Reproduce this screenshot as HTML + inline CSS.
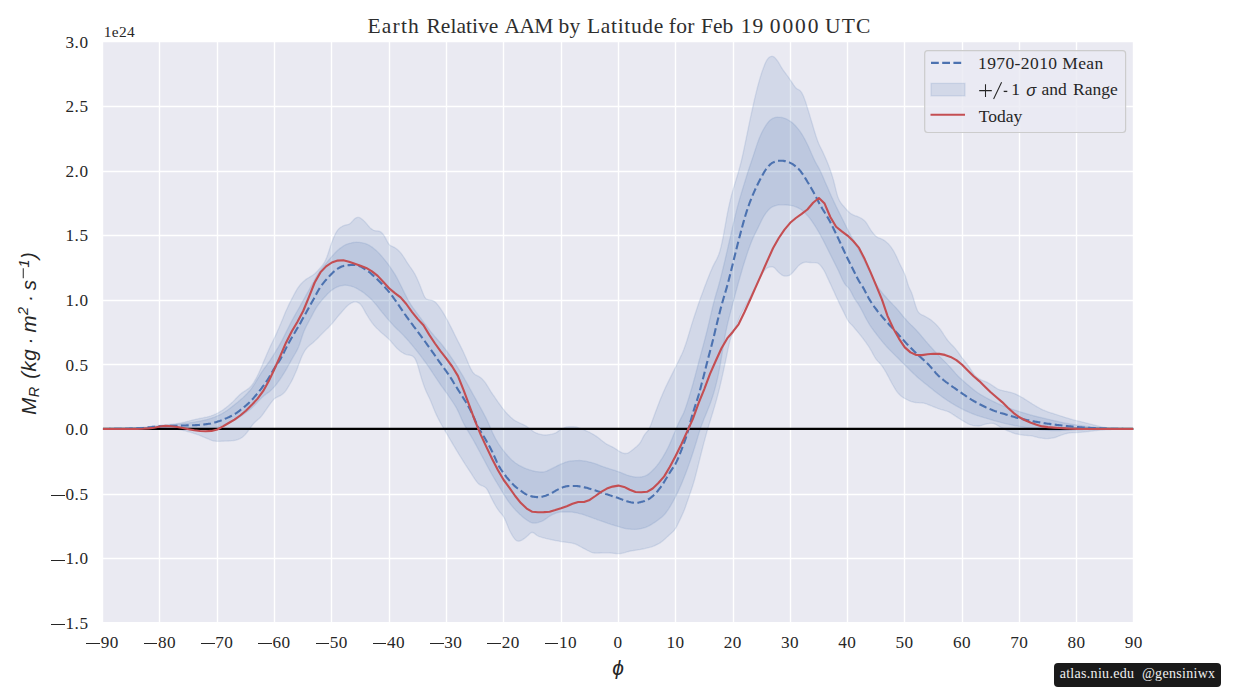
<!DOCTYPE html>
<html><head><meta charset="utf-8"><title>Earth Relative AAM</title>
<style>
html,body{margin:0;padding:0;background:#fff;}
body{width:1246px;height:700px;position:relative;overflow:hidden;font-family:"Liberation Serif",serif;color:#262626;}
.t{position:absolute;white-space:nowrap;line-height:1;}
.tw{top:16.0px;font-size:21.5px;color:#2e2e2e;}
.yt{font-size:17.2px;text-align:right;width:70px;letter-spacing:0.5px;}
.m{display:inline-block;width:14px;height:0;border-top:1.1px solid #262626;vertical-align:3.6px;margin:0 0.9px 0 0;}
.xt .m{vertical-align:4.0px;width:13.6px;margin:0 0.7px 0 0;}
.xt{font-size:17.2px;text-align:center;width:70px;letter-spacing:0.4px;}
</style></head><body>
<svg width="1246" height="700" viewBox="0 0 1246 700" style="position:absolute;left:0;top:0">
<rect x="102.675" y="41.0" width="1031.31" height="581.0" fill="#eaeaf2"/>
<path d="M102.50,41.0V622.0M159.50,41.0V622.0M217.50,41.0V622.0M274.50,41.0V622.0M331.50,41.0V622.0M389.50,41.0V622.0M446.50,41.0V622.0M503.50,41.0V622.0M561.50,41.0V622.0M618.50,41.0V622.0M675.50,41.0V622.0M733.50,41.0V622.0M790.50,41.0V622.0M847.50,41.0V622.0M904.50,41.0V622.0M962.50,41.0V622.0M1019.50,41.0V622.0M1076.50,41.0V622.0M1133.50,41.0V622.0M102.675,41.50H1133.985M102.675,106.50H1133.985M102.675,171.50H1133.985M102.675,235.50H1133.985M102.675,300.50H1133.985M102.675,364.50H1133.985M102.675,429.00H1133.985M102.675,494.50H1133.985M102.675,558.50H1133.985M102.675,623.50H1133.985" stroke="#fff" stroke-width="1.4" fill="none"/>
<clipPath id="cp"><rect x="102.9" y="41.0" width="1030.3" height="581.0"/></clipPath>
<g clip-path="url(#cp)">
<path d="M102.7,429.0L103.7,429.0L104.7,429.0L105.7,429.0L106.7,429.0L107.7,428.9L108.7,428.9L109.7,428.9L110.7,428.9L111.7,428.9L112.7,428.9L113.7,428.9L114.7,428.8L115.7,428.8L116.7,428.8L117.7,428.8L118.7,428.8L119.7,428.7L120.7,428.7L121.7,428.7L122.7,428.6L123.7,428.6L124.7,428.6L125.7,428.5L126.7,428.5L127.7,428.5L128.7,428.4L129.7,428.4L130.7,428.4L131.7,428.3L132.7,428.3L133.7,428.2L134.7,428.2L135.7,428.1L136.7,428.1L137.7,428.0L138.7,428.0L139.7,427.9L140.7,427.9L141.7,427.8L142.7,427.7L143.7,427.5L144.7,427.4L145.7,427.3L146.7,427.1L147.7,427.0L148.7,426.8L149.7,426.7L150.7,426.5L151.7,426.4L152.7,426.2L153.7,426.1L154.7,425.9L155.7,425.8L156.7,425.7L157.7,425.5L158.7,425.4L159.7,425.3L160.7,425.2L161.7,425.1L162.7,425.0L163.7,424.9L164.7,424.8L165.7,424.8L166.7,424.7L167.7,424.6L168.7,424.5L169.7,424.4L170.7,424.3L171.7,424.2L172.7,424.1L173.7,424.0L174.7,423.9L175.7,423.8L176.7,423.6L177.7,423.5L178.7,423.3L179.7,423.1L180.7,423.0L181.7,422.8L182.7,422.5L183.7,422.3L184.7,422.1L185.7,421.8L186.7,421.6L187.7,421.3L188.7,421.1L189.7,420.8L190.7,420.6L191.7,420.3L192.7,420.0L193.7,419.8L194.7,419.6L195.7,419.3L196.7,419.1L197.7,418.9L198.7,418.7L199.7,418.5L200.7,418.3L201.7,418.1L202.7,417.9L203.7,417.7L204.7,417.5L205.7,417.3L206.7,417.1L207.7,416.8L208.7,416.6L209.7,416.3L210.7,416.0L211.7,415.6L212.7,415.3L213.7,414.9L214.7,414.4L215.7,414.0L216.7,413.5L217.7,413.0L218.7,412.5L219.7,411.9L220.7,411.3L221.7,410.7L222.7,410.1L223.7,409.4L224.7,408.6L225.7,407.9L226.7,407.1L227.7,406.3L228.7,405.4L229.7,404.6L230.7,403.7L231.7,402.8L232.7,401.9L233.7,400.9L234.7,399.9L235.7,398.8L236.7,397.8L237.7,396.7L238.7,395.7L239.7,394.8L240.7,393.9L241.7,393.1L242.7,392.4L243.7,391.7L244.7,391.1L245.7,390.5L246.7,389.8L247.7,389.1L248.7,388.4L249.7,387.5L250.7,386.5L251.7,385.3L252.7,384.0L253.7,382.5L254.7,380.8L255.7,379.1L256.7,377.2L257.7,375.3L258.7,373.3L259.7,371.1L260.7,368.8L261.7,366.5L262.7,364.0L263.7,361.6L264.7,359.2L265.7,356.9L266.7,354.5L267.7,352.2L268.7,349.9L269.7,347.7L270.7,345.6L271.7,343.5L272.7,341.5L273.7,339.4L274.7,337.2L275.7,335.1L276.7,332.9L277.7,330.6L278.7,328.4L279.7,326.1L280.7,323.7L281.7,321.3L282.7,318.9L283.7,316.4L284.7,314.0L285.7,311.6L286.7,309.4L287.7,307.2L288.7,305.1L289.7,303.0L290.7,301.0L291.7,299.1L292.7,297.2L293.7,295.3L294.7,293.4L295.7,291.6L296.7,289.8L297.7,288.2L298.7,286.8L299.7,285.5L300.7,284.3L301.7,283.2L302.7,282.2L303.7,281.3L304.7,280.4L305.7,279.6L306.7,278.9L307.7,278.3L308.7,277.7L309.7,277.1L310.7,276.5L311.7,275.9L312.7,275.3L313.7,274.5L314.7,273.7L315.7,272.7L316.7,271.7L317.7,270.7L318.7,269.6L319.7,268.5L320.7,267.4L321.7,266.2L322.7,264.9L323.7,263.5L324.7,261.8L325.7,259.8L326.7,257.4L327.7,254.7L328.7,251.7L329.7,248.6L330.7,245.5L331.7,242.6L332.7,240.0L333.7,237.5L334.7,235.3L335.7,233.3L336.7,231.5L337.7,230.1L338.7,228.9L339.7,228.0L340.7,227.3L341.7,226.7L342.7,226.1L343.7,225.7L344.7,225.3L345.7,225.0L346.7,224.8L347.7,224.6L348.7,224.3L349.7,223.8L350.7,223.1L351.7,222.0L352.7,220.9L353.7,219.8L354.7,218.8L355.7,218.1L356.7,217.6L357.7,217.4L358.7,217.4L359.7,217.7L360.7,218.2L361.7,218.9L362.7,219.7L363.7,220.6L364.7,221.6L365.7,222.7L366.7,223.9L367.7,225.1L368.7,226.3L369.7,227.4L370.7,228.4L371.7,229.1L372.7,229.8L373.7,230.3L374.7,230.6L375.7,230.8L376.7,230.9L377.7,230.9L378.7,231.1L379.7,231.4L380.7,231.9L381.7,232.7L382.7,233.7L383.7,235.0L384.7,236.6L385.7,238.4L386.7,240.4L387.7,242.2L388.7,243.8L389.7,244.9L390.7,245.7L391.7,246.2L392.7,246.6L393.7,247.1L394.7,247.6L395.7,248.2L396.7,248.9L397.7,249.8L398.7,250.7L399.7,251.7L400.7,252.9L401.7,254.1L402.7,255.5L403.7,257.0L404.7,258.6L405.7,260.2L406.7,261.8L407.7,263.3L408.7,264.8L409.7,266.3L410.7,267.7L411.7,269.1L412.7,270.6L413.7,272.2L414.7,273.8L415.7,275.7L416.7,277.7L417.7,279.9L418.7,282.2L419.7,284.7L420.7,287.2L421.7,289.9L422.7,292.6L423.7,295.1L424.7,297.1L425.7,298.4L426.7,299.2L427.7,299.5L428.7,299.8L429.7,299.9L430.7,300.1L431.7,300.3L432.7,300.6L433.7,301.0L434.7,301.7L435.7,302.5L436.7,303.6L437.7,304.8L438.7,306.1L439.7,307.5L440.7,308.9L441.7,310.4L442.7,311.9L443.7,313.6L444.7,315.3L445.7,317.1L446.7,319.0L447.7,320.8L448.7,322.7L449.7,324.7L450.7,326.6L451.7,328.6L452.7,330.6L453.7,332.6L454.7,334.7L455.7,336.7L456.7,338.7L457.7,340.7L458.7,342.6L459.7,344.6L460.7,346.6L461.7,348.6L462.7,350.6L463.7,352.8L464.7,355.0L465.7,357.3L466.7,359.6L467.7,362.0L468.7,364.3L469.7,366.5L470.7,368.6L471.7,370.4L472.7,372.1L473.7,373.3L474.7,374.3L475.7,374.9L476.7,375.4L477.7,375.9L478.7,376.4L479.7,377.0L480.7,377.8L481.7,378.6L482.7,379.6L483.7,380.7L484.7,381.9L485.7,383.2L486.7,384.8L487.7,386.4L488.7,388.0L489.7,389.7L490.7,391.3L491.7,392.8L492.7,394.3L493.7,395.7L494.7,397.2L495.7,398.7L496.7,400.1L497.7,401.5L498.7,403.0L499.7,404.3L500.7,405.7L501.7,407.1L502.7,408.4L503.7,409.6L504.7,410.9L505.7,412.1L506.7,413.2L507.7,414.3L508.7,415.3L509.7,416.3L510.7,417.3L511.7,418.1L512.7,418.9L513.7,419.7L514.7,420.4L515.7,421.0L516.7,421.5L517.7,422.0L518.7,422.5L519.7,423.0L520.7,423.4L521.7,423.9L522.7,424.3L523.7,424.8L524.7,425.3L525.7,425.9L526.7,426.5L527.7,427.2L528.7,427.9L529.7,428.7L530.7,429.5L531.7,430.2L532.7,431.0L533.7,431.7L534.7,432.3L535.7,432.8L536.7,433.2L537.7,433.6L538.7,433.9L539.7,434.2L540.7,434.4L541.7,434.6L542.7,434.8L543.7,434.9L544.7,435.0L545.7,435.0L546.7,434.9L547.7,434.8L548.7,434.7L549.7,434.6L550.7,434.4L551.7,434.2L552.7,433.9L553.7,433.7L554.7,433.3L555.7,432.9L556.7,432.3L557.7,431.6L558.7,430.9L559.7,430.2L560.7,429.6L561.7,429.0L562.7,428.5L563.7,428.1L564.7,427.6L565.7,427.3L566.7,427.0L567.7,426.9L568.7,426.8L569.7,426.8L570.7,426.8L571.7,426.8L572.7,426.8L573.7,426.8L574.7,426.9L575.7,427.0L576.7,427.2L577.7,427.5L578.7,427.8L579.7,428.2L580.7,428.5L581.7,428.9L582.7,429.3L583.7,429.7L584.7,430.1L585.7,430.6L586.7,431.0L587.7,431.5L588.7,431.9L589.7,432.4L590.7,433.0L591.7,433.5L592.7,434.1L593.7,434.6L594.7,435.2L595.7,435.9L596.7,436.6L597.7,437.3L598.7,438.1L599.7,438.8L600.7,439.7L601.7,440.5L602.7,441.3L603.7,442.0L604.7,442.8L605.7,443.5L606.7,444.1L607.7,444.7L608.7,445.2L609.7,445.7L610.7,446.2L611.7,446.6L612.7,447.1L613.7,447.7L614.7,448.2L615.7,448.9L616.7,449.5L617.7,450.2L618.7,450.9L619.7,451.5L620.7,452.1L621.7,452.6L622.7,452.9L623.7,453.3L624.7,453.5L625.7,453.5L626.7,453.4L627.7,453.1L628.7,452.7L629.7,452.0L630.7,451.3L631.7,450.5L632.7,449.7L633.7,448.9L634.7,448.1L635.7,447.3L636.7,446.5L637.7,445.5L638.7,444.5L639.7,443.3L640.7,441.8L641.7,440.0L642.7,438.0L643.7,436.1L644.7,434.5L645.7,433.2L646.7,432.1L647.7,431.0L648.7,429.6L649.7,427.6L650.7,425.2L651.7,422.5L652.7,419.7L653.7,417.0L654.7,414.2L655.7,411.5L656.7,408.9L657.7,406.3L658.7,403.7L659.7,401.1L660.7,398.6L661.7,396.2L662.7,393.8L663.7,391.5L664.7,389.3L665.7,387.1L666.7,385.0L667.7,382.9L668.7,380.9L669.7,378.9L670.7,376.9L671.7,374.9L672.7,372.9L673.7,370.9L674.7,368.8L675.7,366.8L676.7,364.8L677.7,362.7L678.7,360.7L679.7,358.7L680.7,356.6L681.7,354.5L682.7,352.2L683.7,349.8L684.7,347.1L685.7,344.3L686.7,341.2L687.7,338.0L688.7,334.6L689.7,331.2L690.7,327.9L691.7,324.6L692.7,321.4L693.7,318.3L694.7,315.2L695.7,312.2L696.7,309.2L697.7,306.2L698.7,303.3L699.7,300.4L700.7,297.6L701.7,294.9L702.7,292.2L703.7,289.5L704.7,286.8L705.7,284.2L706.7,281.6L707.7,279.0L708.7,276.5L709.7,274.0L710.7,271.5L711.7,269.2L712.7,266.9L713.7,264.9L714.7,262.9L715.7,261.1L716.7,259.2L717.7,257.1L718.7,254.7L719.7,251.7L720.7,248.1L721.7,243.8L722.7,239.0L723.7,233.9L724.7,228.4L725.7,222.8L726.7,217.2L727.7,211.9L728.7,207.1L729.7,202.6L730.7,198.4L731.7,194.5L732.7,190.9L733.7,187.4L734.7,184.1L735.7,180.9L736.7,177.7L737.7,174.4L738.7,170.9L739.7,167.3L740.7,163.5L741.7,159.5L742.7,155.1L743.7,150.5L744.7,145.7L745.7,140.8L746.7,135.9L747.7,131.1L748.7,126.2L749.7,121.4L750.7,116.7L751.7,112.1L752.7,107.5L753.7,103.0L754.7,98.6L755.7,94.4L756.7,90.4L757.7,86.5L758.7,82.8L759.7,79.3L760.7,76.0L761.7,72.8L762.7,69.9L763.7,67.2L764.7,64.6L765.7,62.3L766.7,60.4L767.7,58.9L768.7,57.8L769.7,57.0L770.7,56.5L771.7,56.3L772.7,56.4L773.7,56.8L774.7,57.6L775.7,58.6L776.7,59.8L777.7,61.2L778.7,62.7L779.7,64.4L780.7,66.2L781.7,67.8L782.7,69.4L783.7,70.8L784.7,72.2L785.7,73.5L786.7,74.9L787.7,76.2L788.7,77.6L789.7,79.1L790.7,80.6L791.7,82.1L792.7,83.6L793.7,85.1L794.7,86.5L795.7,87.7L796.7,88.6L797.7,89.2L798.7,89.7L799.7,90.3L800.7,91.3L801.7,92.7L802.7,94.6L803.7,96.8L804.7,99.4L805.7,102.3L806.7,105.4L807.7,108.7L808.7,111.9L809.7,115.3L810.7,118.6L811.7,122.0L812.7,125.3L813.7,128.7L814.7,132.0L815.7,135.3L816.7,138.3L817.7,141.1L818.7,143.6L819.7,145.8L820.7,147.8L821.7,149.8L822.7,151.8L823.7,154.0L824.7,156.2L825.7,158.5L826.7,160.8L827.7,163.3L828.7,165.8L829.7,168.5L830.7,171.2L831.7,174.2L832.7,177.4L833.7,181.0L834.7,185.0L835.7,189.1L836.7,193.1L837.7,196.5L838.7,199.1L839.7,201.1L840.7,202.7L841.7,204.0L842.7,205.2L843.7,206.3L844.7,207.5L845.7,208.6L846.7,209.7L847.7,210.8L848.7,211.8L849.7,212.8L850.7,213.5L851.7,214.2L852.7,214.7L853.7,215.2L854.7,215.6L855.7,215.9L856.7,216.2L857.7,216.6L858.7,217.0L859.7,217.5L860.7,218.0L861.7,218.5L862.7,219.2L863.7,220.0L864.7,220.9L865.7,222.0L866.7,223.4L867.7,225.0L868.7,226.7L869.7,228.3L870.7,229.9L871.7,231.3L872.7,232.6L873.7,233.9L874.7,235.0L875.7,236.0L876.7,236.8L877.7,237.4L878.7,237.9L879.7,238.2L880.7,238.6L881.7,239.0L882.7,239.5L883.7,240.1L884.7,240.8L885.7,241.6L886.7,242.4L887.7,243.3L888.7,244.3L889.7,245.4L890.7,246.7L891.7,248.1L892.7,249.6L893.7,251.2L894.7,253.0L895.7,255.0L896.7,257.1L897.7,259.3L898.7,261.6L899.7,263.7L900.7,265.8L901.7,267.8L902.7,269.7L903.7,271.8L904.7,274.1L905.7,276.9L906.7,280.1L907.7,283.5L908.7,286.4L909.7,288.7L910.7,290.8L911.7,293.1L912.7,295.9L913.7,299.3L914.7,302.8L915.7,306.0L916.7,308.8L917.7,311.0L918.7,312.5L919.7,313.6L920.7,314.2L921.7,314.8L922.7,315.2L923.7,315.7L924.7,316.2L925.7,316.7L926.7,317.3L927.7,317.9L928.7,318.5L929.7,319.1L930.7,319.8L931.7,320.6L932.7,321.4L933.7,322.2L934.7,323.1L935.7,324.1L936.7,325.1L937.7,326.2L938.7,327.4L939.7,328.6L940.7,329.9L941.7,331.4L942.7,332.9L943.7,334.5L944.7,336.0L945.7,337.5L946.7,339.0L947.7,340.3L948.7,341.5L949.7,342.6L950.7,343.7L951.7,344.7L952.7,345.7L953.7,346.8L954.7,347.9L955.7,349.1L956.7,350.4L957.7,351.7L958.7,353.1L959.7,354.5L960.7,355.9L961.7,357.3L962.7,358.6L963.7,359.9L964.7,361.2L965.7,362.5L966.7,363.7L967.7,365.0L968.7,366.3L969.7,367.8L970.7,369.3L971.7,370.9L972.7,372.4L973.7,373.8L974.7,375.1L975.7,376.1L976.7,377.0L977.7,377.8L978.7,378.4L979.7,379.0L980.7,379.6L981.7,380.0L982.7,380.5L983.7,380.9L984.7,381.3L985.7,381.7L986.7,382.1L987.7,382.6L988.7,383.2L989.7,383.8L990.7,384.4L991.7,385.0L992.7,385.7L993.7,386.4L994.7,387.1L995.7,387.8L996.7,388.4L997.7,389.0L998.7,389.4L999.7,389.8L1000.7,390.1L1001.7,390.4L1002.7,390.6L1003.7,390.8L1004.7,391.1L1005.7,391.3L1006.7,391.5L1007.7,391.7L1008.7,392.0L1009.7,392.2L1010.7,392.5L1011.7,392.7L1012.7,393.0L1013.7,393.3L1014.7,393.7L1015.7,394.1L1016.7,394.6L1017.7,395.1L1018.7,395.6L1019.7,396.1L1020.7,396.7L1021.7,397.3L1022.7,397.8L1023.7,398.4L1024.7,399.1L1025.7,399.7L1026.7,400.3L1027.7,401.0L1028.7,401.6L1029.7,402.3L1030.7,402.9L1031.7,403.5L1032.7,404.2L1033.7,404.8L1034.7,405.4L1035.7,406.0L1036.7,406.6L1037.7,407.2L1038.7,407.7L1039.7,408.3L1040.7,408.8L1041.7,409.3L1042.7,409.8L1043.7,410.2L1044.7,410.6L1045.7,411.0L1046.7,411.4L1047.7,411.8L1048.7,412.1L1049.7,412.5L1050.7,412.8L1051.7,413.1L1052.7,413.4L1053.7,413.7L1054.7,414.1L1055.7,414.4L1056.7,414.7L1057.7,415.0L1058.7,415.4L1059.7,415.7L1060.7,416.0L1061.7,416.3L1062.7,416.6L1063.7,416.9L1064.7,417.3L1065.7,417.6L1066.7,417.9L1067.7,418.2L1068.7,418.5L1069.7,418.8L1070.7,419.1L1071.7,419.4L1072.7,419.7L1073.7,419.9L1074.7,420.2L1075.7,420.4L1076.7,420.7L1077.7,420.9L1078.7,421.2L1079.7,421.4L1080.7,421.6L1081.7,421.9L1082.7,422.1L1083.7,422.4L1084.7,422.6L1085.7,422.9L1086.7,423.1L1087.7,423.4L1088.7,423.7L1089.7,423.9L1090.7,424.2L1091.7,424.4L1092.7,424.7L1093.7,425.0L1094.7,425.2L1095.7,425.5L1096.7,425.7L1097.7,426.0L1098.7,426.2L1099.7,426.5L1100.7,426.7L1101.7,426.9L1102.7,427.1L1103.7,427.3L1104.7,427.4L1105.7,427.6L1106.7,427.7L1107.7,427.9L1108.7,428.0L1109.7,428.2L1110.7,428.3L1111.7,428.4L1112.7,428.5L1113.7,428.5L1114.7,428.6L1115.7,428.7L1116.7,428.8L1117.7,428.8L1118.7,428.9L1119.7,428.9L1120.7,429.0L1121.7,429.0L1122.7,429.0L1123.7,429.0L1124.7,429.0L1125.7,429.0L1126.7,429.0L1127.7,429.0L1128.7,429.0L1129.7,429.0L1130.7,429.0L1131.7,429.0L1132.7,429.0L1134.0,429.0L1134.0,429.0L1132.7,429.0L1131.7,429.0L1130.7,429.0L1129.7,429.1L1128.7,429.1L1127.7,429.1L1126.7,429.1L1125.7,429.1L1124.7,429.1L1123.7,429.2L1122.7,429.2L1121.7,429.2L1120.7,429.2L1119.7,429.2L1118.7,429.3L1117.7,429.3L1116.7,429.3L1115.7,429.3L1114.7,429.3L1113.7,429.4L1112.7,429.4L1111.7,429.4L1110.7,429.5L1109.7,429.5L1108.7,429.6L1107.7,429.6L1106.7,429.7L1105.7,429.7L1104.7,429.8L1103.7,429.9L1102.7,430.0L1101.7,430.0L1100.7,430.1L1099.7,430.2L1098.7,430.3L1097.7,430.4L1096.7,430.5L1095.7,430.6L1094.7,430.7L1093.7,430.9L1092.7,431.0L1091.7,431.1L1090.7,431.2L1089.7,431.3L1088.7,431.5L1087.7,431.6L1086.7,431.7L1085.7,431.8L1084.7,431.9L1083.7,432.0L1082.7,432.1L1081.7,432.2L1080.7,432.3L1079.7,432.3L1078.7,432.4L1077.7,432.5L1076.7,432.5L1075.7,432.6L1074.7,432.6L1073.7,432.6L1072.7,432.7L1071.7,432.7L1070.7,432.8L1069.7,432.9L1068.7,433.1L1067.7,433.2L1066.7,433.5L1065.7,433.7L1064.7,434.0L1063.7,434.3L1062.7,434.6L1061.7,435.0L1060.7,435.3L1059.7,435.7L1058.7,436.1L1057.7,436.5L1056.7,436.9L1055.7,437.3L1054.7,437.5L1053.7,437.8L1052.7,438.0L1051.7,438.1L1050.7,438.3L1049.7,438.4L1048.7,438.5L1047.7,438.6L1046.7,438.6L1045.7,438.6L1044.7,438.5L1043.7,438.4L1042.7,438.3L1041.7,438.1L1040.7,438.0L1039.7,437.8L1038.7,437.6L1037.7,437.4L1036.7,437.1L1035.7,436.9L1034.7,436.6L1033.7,436.3L1032.7,436.1L1031.7,435.9L1030.7,435.7L1029.7,435.6L1028.7,435.6L1027.7,435.5L1026.7,435.4L1025.7,435.3L1024.7,435.3L1023.7,435.2L1022.7,435.1L1021.7,434.9L1020.7,434.8L1019.7,434.6L1018.7,434.4L1017.7,434.2L1016.7,434.0L1015.7,433.8L1014.7,433.5L1013.7,433.2L1012.7,432.8L1011.7,432.4L1010.7,432.0L1009.7,431.6L1008.7,431.2L1007.7,430.8L1006.7,430.3L1005.7,429.8L1004.7,429.3L1003.7,428.8L1002.7,428.3L1001.7,427.8L1000.7,427.2L999.7,426.7L998.7,426.1L997.7,425.5L996.7,424.9L995.7,424.3L994.7,423.9L993.7,423.5L992.7,423.4L991.7,423.3L990.7,423.3L989.7,423.4L988.7,423.6L987.7,423.7L986.7,423.9L985.7,424.1L984.7,424.3L983.7,424.6L982.7,425.0L981.7,425.4L980.7,425.7L979.7,425.9L978.7,426.0L977.7,426.0L976.7,425.9L975.7,425.8L974.7,425.7L973.7,425.6L972.7,425.4L971.7,425.1L970.7,424.9L969.7,424.5L968.7,424.1L967.7,423.6L966.7,423.0L965.7,422.5L964.7,421.9L963.7,421.3L962.7,420.7L961.7,420.1L960.7,419.5L959.7,418.8L958.7,418.2L957.7,417.6L956.7,416.9L955.7,416.3L954.7,415.6L953.7,414.9L952.7,414.3L951.7,413.6L950.7,413.0L949.7,412.4L948.7,411.9L947.7,411.5L946.7,411.1L945.7,410.8L944.7,410.5L943.7,410.2L942.7,409.9L941.7,409.6L940.7,409.4L939.7,409.1L938.7,408.7L937.7,408.4L936.7,408.0L935.7,407.6L934.7,407.2L933.7,406.8L932.7,406.4L931.7,406.0L930.7,405.6L929.7,405.2L928.7,404.8L927.7,404.4L926.7,404.0L925.7,403.7L924.7,403.4L923.7,403.1L922.7,403.0L921.7,402.9L920.7,402.8L919.7,402.8L918.7,402.7L917.7,402.7L916.7,402.6L915.7,402.5L914.7,402.4L913.7,402.2L912.7,401.9L911.7,401.6L910.7,401.3L909.7,400.9L908.7,400.5L907.7,400.0L906.7,399.5L905.7,399.0L904.7,398.5L903.7,397.9L902.7,397.2L901.7,396.5L900.7,395.7L899.7,394.8L898.7,393.8L897.7,392.6L896.7,391.3L895.7,389.8L894.7,388.2L893.7,386.5L892.7,384.8L891.7,383.0L890.7,381.1L889.7,379.2L888.7,377.3L887.7,375.4L886.7,373.6L885.7,371.8L884.7,370.1L883.7,368.5L882.7,366.9L881.7,365.6L880.7,364.3L879.7,363.2L878.7,362.1L877.7,361.1L876.7,359.9L875.7,358.6L874.7,357.0L873.7,355.2L872.7,353.4L871.7,351.5L870.7,349.8L869.7,348.1L868.7,346.5L867.7,345.0L866.7,343.6L865.7,342.1L864.7,340.8L863.7,339.4L862.7,338.1L861.7,336.8L860.7,335.5L859.7,334.3L858.7,333.1L857.7,331.9L856.7,330.7L855.7,329.5L854.7,328.3L853.7,327.0L852.7,325.9L851.7,324.8L850.7,323.9L849.7,322.9L848.7,321.7L847.7,320.1L846.7,318.3L845.7,316.2L844.7,314.2L843.7,312.1L842.7,310.1L841.7,308.1L840.7,306.1L839.7,304.1L838.7,302.0L837.7,299.8L836.7,297.7L835.7,295.5L834.7,293.3L833.7,291.1L832.7,288.9L831.7,286.7L830.7,284.5L829.7,282.4L828.7,280.2L827.7,278.1L826.7,275.9L825.7,273.8L824.7,271.8L823.7,270.0L822.7,268.4L821.7,267.0L820.7,265.7L819.7,264.6L818.7,263.7L817.7,263.1L816.7,262.8L815.7,262.7L814.7,262.6L813.7,262.6L812.7,262.6L811.7,262.6L810.7,262.5L809.7,262.5L808.7,262.4L807.7,262.3L806.7,262.2L805.7,262.2L804.7,262.3L803.7,262.5L802.7,262.9L801.7,263.4L800.7,264.0L799.7,264.7L798.7,265.6L797.7,266.6L796.7,267.8L795.7,269.0L794.7,270.2L793.7,271.4L792.7,272.5L791.7,273.5L790.7,274.4L789.7,275.2L788.7,275.7L787.7,275.9L786.7,276.1L785.7,276.1L784.7,276.0L783.7,275.8L782.7,275.4L781.7,274.9L780.7,274.1L779.7,273.3L778.7,272.4L777.7,271.4L776.7,270.3L775.7,269.1L774.7,268.1L773.7,267.3L772.7,266.9L771.7,266.7L770.7,266.8L769.7,267.0L768.7,267.3L767.7,267.7L766.7,268.3L765.7,269.2L764.7,270.2L763.7,271.5L762.7,272.9L761.7,274.6L760.7,276.5L759.7,278.5L758.7,280.6L757.7,282.7L756.7,284.7L755.7,286.7L754.7,288.6L753.7,290.5L752.7,292.4L751.7,294.3L750.7,296.2L749.7,298.1L748.7,299.9L747.7,301.8L746.7,303.6L745.7,305.4L744.7,307.2L743.7,309.0L742.7,310.9L741.7,312.8L740.7,314.9L739.7,317.1L738.7,319.5L737.7,322.0L736.7,324.5L735.7,326.9L734.7,329.2L733.7,331.3L732.7,333.4L731.7,335.6L730.7,338.2L729.7,341.6L728.7,345.8L727.7,350.6L726.7,355.5L725.7,360.4L724.7,365.1L723.7,369.7L722.7,374.3L721.7,378.8L720.7,383.1L719.7,387.4L718.7,391.5L717.7,395.3L716.7,399.0L715.7,402.6L714.7,406.1L713.7,409.4L712.7,412.8L711.7,416.1L710.7,419.3L709.7,422.5L708.7,425.8L707.7,429.1L706.7,432.5L705.7,436.1L704.7,439.8L703.7,443.6L702.7,447.4L701.7,451.3L700.7,455.3L699.7,459.3L698.7,463.3L697.7,467.3L696.7,471.3L695.7,475.2L694.7,479.0L693.7,482.5L692.7,485.7L691.7,488.8L690.7,491.7L689.7,494.6L688.7,497.5L687.7,500.4L686.7,503.3L685.7,506.2L684.7,508.9L683.7,511.5L682.7,513.8L681.7,516.0L680.7,518.1L679.7,520.2L678.7,522.3L677.7,524.5L676.7,526.5L675.7,528.2L674.7,529.7L673.7,530.9L672.7,531.9L671.7,532.8L670.7,533.7L669.7,534.6L668.7,535.5L667.7,536.4L666.7,537.4L665.7,538.3L664.7,539.2L663.7,540.1L662.7,540.9L661.7,541.7L660.7,542.4L659.7,543.1L658.7,543.7L657.7,544.2L656.7,544.7L655.7,545.2L654.7,545.7L653.7,546.1L652.7,546.4L651.7,546.8L650.7,547.1L649.7,547.3L648.7,547.6L647.7,547.9L646.7,548.1L645.7,548.3L644.7,548.6L643.7,548.8L642.7,549.0L641.7,549.2L640.7,549.4L639.7,549.6L638.7,549.7L637.7,549.9L636.7,550.1L635.7,550.2L634.7,550.4L633.7,550.5L632.7,550.7L631.7,550.9L630.7,551.0L629.7,551.2L628.7,551.5L627.7,551.7L626.7,552.0L625.7,552.3L624.7,552.6L623.7,552.8L622.7,553.1L621.7,553.3L620.7,553.5L619.7,553.6L618.7,553.6L617.7,553.6L616.7,553.6L615.7,553.5L614.7,553.4L613.7,553.3L612.7,553.2L611.7,553.1L610.7,553.0L609.7,552.9L608.7,552.8L607.7,552.8L606.7,552.8L605.7,552.8L604.7,552.8L603.7,552.8L602.7,552.8L601.7,552.9L600.7,552.9L599.7,553.0L598.7,553.0L597.7,553.1L596.7,553.1L595.7,553.1L594.7,553.0L593.7,552.9L592.7,552.7L591.7,552.4L590.7,552.0L589.7,551.5L588.7,551.0L587.7,550.5L586.7,550.0L585.7,549.4L584.7,548.9L583.7,548.4L582.7,547.9L581.7,547.3L580.7,546.8L579.7,546.2L578.7,545.7L577.7,545.1L576.7,544.6L575.7,544.2L574.7,543.8L573.7,543.5L572.7,543.3L571.7,543.1L570.7,542.9L569.7,542.7L568.7,542.6L567.7,542.4L566.7,542.3L565.7,542.2L564.7,542.1L563.7,541.9L562.7,541.8L561.7,541.6L560.7,541.5L559.7,541.3L558.7,541.1L557.7,540.9L556.7,540.7L555.7,540.6L554.7,540.4L553.7,540.2L552.7,540.0L551.7,539.7L550.7,539.5L549.7,539.3L548.7,539.1L547.7,538.9L546.7,538.6L545.7,538.4L544.7,538.1L543.7,537.9L542.7,537.6L541.7,537.3L540.7,537.0L539.7,536.7L538.7,536.3L537.7,535.8L536.7,535.2L535.7,534.4L534.7,533.6L533.7,532.9L532.7,532.5L531.7,532.5L530.7,533.0L529.7,533.7L528.7,534.7L527.7,535.7L526.7,536.6L525.7,537.5L524.7,538.2L523.7,538.9L522.7,539.6L521.7,540.2L520.7,540.7L519.7,541.0L518.7,541.2L517.7,541.1L516.7,540.7L515.7,540.0L514.7,538.9L513.7,537.6L512.7,536.1L511.7,534.4L510.7,532.6L509.7,530.7L508.7,528.5L507.7,526.1L506.7,523.6L505.7,521.1L504.7,518.9L503.7,517.0L502.7,515.5L501.7,514.2L500.7,513.0L499.7,511.9L498.7,510.6L497.7,509.2L496.7,507.7L495.7,506.0L494.7,504.2L493.7,502.4L492.7,500.5L491.7,498.6L490.7,496.6L489.7,494.5L488.7,492.4L487.7,490.4L486.7,488.9L485.7,487.7L484.7,487.0L483.7,486.4L482.7,486.0L481.7,485.6L480.7,485.2L479.7,484.6L478.7,483.9L477.7,482.9L476.7,481.7L475.7,480.3L474.7,478.9L473.7,477.3L472.7,475.8L471.7,474.2L470.7,472.7L469.7,471.2L468.7,469.7L467.7,468.2L466.7,466.6L465.7,465.1L464.7,463.5L463.7,461.9L462.7,460.3L461.7,458.7L460.7,457.1L459.7,455.5L458.7,453.9L457.7,452.2L456.7,450.6L455.7,448.9L454.7,447.2L453.7,445.6L452.7,443.9L451.7,442.2L450.7,440.5L449.7,438.8L448.7,437.1L447.7,435.3L446.7,433.6L445.7,431.9L444.7,430.2L443.7,428.5L442.7,426.7L441.7,425.0L440.7,423.2L439.7,421.4L438.7,419.4L437.7,417.5L436.7,415.4L435.7,413.2L434.7,410.9L433.7,408.5L432.7,406.0L431.7,403.5L430.7,401.1L429.7,398.8L428.7,396.7L427.7,394.6L426.7,392.5L425.7,390.3L424.7,387.8L423.7,385.0L422.7,382.1L421.7,379.0L420.7,375.7L419.7,372.3L418.7,368.7L417.7,365.3L416.7,362.3L415.7,359.9L414.7,358.2L413.7,357.0L412.7,356.2L411.7,355.7L410.7,355.4L409.7,355.2L408.7,355.0L407.7,354.8L406.7,354.6L405.7,354.3L404.7,353.9L403.7,353.4L402.7,352.8L401.7,352.2L400.7,351.4L399.7,350.7L398.7,349.8L397.7,348.9L396.7,348.0L395.7,346.9L394.7,345.8L393.7,344.6L392.7,343.5L391.7,342.3L390.7,341.1L389.7,340.1L388.7,339.1L387.7,338.1L386.7,337.2L385.7,336.3L384.7,335.5L383.7,334.6L382.7,333.7L381.7,332.9L380.7,332.0L379.7,331.0L378.7,330.1L377.7,329.1L376.7,328.2L375.7,327.1L374.7,326.0L373.7,324.9L372.7,323.6L371.7,322.3L370.7,320.8L369.7,319.3L368.7,317.8L367.7,316.2L366.7,314.6L365.7,312.9L364.7,311.1L363.7,309.3L362.7,307.5L361.7,305.9L360.7,304.6L359.7,303.6L358.7,302.9L357.7,302.4L356.7,302.0L355.7,301.8L354.7,301.8L353.7,302.0L352.7,302.4L351.7,302.8L350.7,303.4L349.7,304.0L348.7,304.8L347.7,305.6L346.7,306.5L345.7,307.5L344.7,308.6L343.7,309.7L342.7,310.9L341.7,312.0L340.7,313.2L339.7,314.3L338.7,315.5L337.7,316.7L336.7,317.9L335.7,319.2L334.7,320.4L333.7,321.6L332.7,322.8L331.7,324.0L330.7,325.1L329.7,326.1L328.7,327.2L327.7,328.2L326.7,329.1L325.7,330.1L324.7,331.1L323.7,332.1L322.7,333.1L321.7,334.1L320.7,335.1L319.7,336.1L318.7,337.2L317.7,338.2L316.7,339.2L315.7,340.1L314.7,341.1L313.7,342.0L312.7,342.9L311.7,343.7L310.7,344.5L309.7,345.3L308.7,346.2L307.7,347.1L306.7,348.2L305.7,349.5L304.7,351.0L303.7,352.7L302.7,354.6L301.7,356.8L300.7,359.3L299.7,361.9L298.7,364.6L297.7,367.3L296.7,369.9L295.7,372.3L294.7,374.6L293.7,376.8L292.7,378.9L291.7,380.9L290.7,382.7L289.7,384.5L288.7,386.2L287.7,387.8L286.7,389.4L285.7,390.8L284.7,392.1L283.7,393.1L282.7,394.1L281.7,394.8L280.7,395.4L279.7,395.9L278.7,396.3L277.7,396.8L276.7,397.3L275.7,397.9L274.7,398.6L273.7,399.5L272.7,400.6L271.7,401.9L270.7,403.2L269.7,404.6L268.7,406.0L267.7,407.4L266.7,408.8L265.7,410.3L264.7,411.7L263.7,413.2L262.7,414.5L261.7,415.8L260.7,417.0L259.7,418.1L258.7,419.0L257.7,419.8L256.7,420.7L255.7,421.5L254.7,422.4L253.7,423.5L252.7,424.7L251.7,426.0L250.7,427.4L249.7,428.8L248.7,430.1L247.7,431.5L246.7,432.8L245.7,434.0L244.7,435.1L243.7,436.1L242.7,437.0L241.7,437.7L240.7,438.2L239.7,438.8L238.7,439.2L237.7,439.6L236.7,439.9L235.7,440.2L234.7,440.4L233.7,440.5L232.7,440.6L231.7,440.7L230.7,440.8L229.7,440.9L228.7,441.0L227.7,441.0L226.7,441.1L225.7,441.1L224.7,441.1L223.7,441.2L222.7,441.2L221.7,441.2L220.7,441.3L219.7,441.3L218.7,441.3L217.7,441.3L216.7,441.3L215.7,441.2L214.7,441.1L213.7,441.0L212.7,440.7L211.7,440.4L210.7,440.0L209.7,439.6L208.7,439.1L207.7,438.7L206.7,438.3L205.7,437.9L204.7,437.5L203.7,437.1L202.7,436.7L201.7,436.2L200.7,435.8L199.7,435.4L198.7,435.0L197.7,434.6L196.7,434.3L195.7,433.9L194.7,433.6L193.7,433.3L192.7,432.9L191.7,432.6L190.7,432.3L189.7,432.0L188.7,431.8L187.7,431.5L186.7,431.3L185.7,431.0L184.7,430.7L183.7,430.5L182.7,430.3L181.7,430.0L180.7,429.8L179.7,429.7L178.7,429.5L177.7,429.4L176.7,429.4L175.7,429.3L174.7,429.3L173.7,429.2L172.7,429.2L171.7,429.2L170.7,429.1L169.7,429.1L168.7,429.1L167.7,429.1L166.7,429.1L165.7,429.0L164.7,429.0L163.7,429.0L162.7,429.0L161.7,429.0L160.7,429.0L159.7,429.0L158.7,429.0L157.7,429.0L156.7,429.0L155.7,429.0L154.7,429.0L153.7,429.0L152.7,429.0L151.7,429.0L150.7,429.0L149.7,429.0L148.7,429.0L147.7,429.0L146.7,429.0L145.7,429.0L144.7,429.0L143.7,429.0L142.7,429.0L141.7,429.0L140.7,429.0L139.7,429.0L138.7,429.0L137.7,429.0L136.7,429.0L135.7,429.0L134.7,429.0L133.7,429.0L132.7,429.0L131.7,429.0L130.7,429.0L129.7,429.0L128.7,429.0L127.7,429.0L126.7,429.0L125.7,429.0L124.7,429.0L123.7,429.0L122.7,429.0L121.7,429.0L120.7,429.0L119.7,429.0L118.7,429.0L117.7,429.0L116.7,429.0L115.7,429.0L114.7,429.0L113.7,429.0L112.7,429.0L111.7,429.0L110.7,429.0L109.7,429.0L108.7,429.0L107.7,429.0L106.7,429.0L105.7,429.0L104.7,429.0L103.7,429.0L102.7,429.0Z" fill="#4c72b0" fill-opacity="0.15" stroke="#4c72b0" stroke-opacity="0.15" stroke-width="1.3"/>
<path d="M102.7,429.0L103.7,429.0L104.7,429.0L105.7,429.0L106.7,429.0L107.7,428.9L108.7,428.9L109.7,428.9L110.7,428.9L111.7,428.9L112.7,428.9L113.7,428.9L114.7,428.8L115.7,428.8L116.7,428.8L117.7,428.8L118.7,428.7L119.7,428.7L120.7,428.7L121.7,428.6L122.7,428.6L123.7,428.6L124.7,428.5L125.7,428.5L126.7,428.5L127.7,428.4L128.7,428.4L129.7,428.3L130.7,428.3L131.7,428.3L132.7,428.2L133.7,428.2L134.7,428.1L135.7,428.1L136.7,428.0L137.7,428.0L138.7,427.9L139.7,427.9L140.7,427.8L141.7,427.8L142.7,427.7L143.7,427.7L144.7,427.6L145.7,427.6L146.7,427.5L147.7,427.5L148.7,427.4L149.7,427.3L150.7,427.3L151.7,427.2L152.7,427.1L153.7,427.0L154.7,426.9L155.7,426.8L156.7,426.7L157.7,426.6L158.7,426.5L159.7,426.4L160.7,426.3L161.7,426.2L162.7,426.0L163.7,425.9L164.7,425.8L165.7,425.7L166.7,425.6L167.7,425.5L168.7,425.4L169.7,425.3L170.7,425.2L171.7,425.0L172.7,424.9L173.7,424.8L174.7,424.7L175.7,424.6L176.7,424.5L177.7,424.4L178.7,424.2L179.7,424.1L180.7,424.0L181.7,423.9L182.7,423.7L183.7,423.6L184.7,423.5L185.7,423.3L186.7,423.2L187.7,423.1L188.7,422.9L189.7,422.8L190.7,422.6L191.7,422.5L192.7,422.3L193.7,422.1L194.7,422.0L195.7,421.8L196.7,421.6L197.7,421.5L198.7,421.3L199.7,421.1L200.7,420.9L201.7,420.7L202.7,420.5L203.7,420.3L204.7,420.0L205.7,419.8L206.7,419.6L207.7,419.3L208.7,419.0L209.7,418.7L210.7,418.4L211.7,418.1L212.7,417.7L213.7,417.4L214.7,417.0L215.7,416.6L216.7,416.2L217.7,415.7L218.7,415.3L219.7,414.8L220.7,414.3L221.7,413.8L222.7,413.2L223.7,412.6L224.7,412.0L225.7,411.3L226.7,410.7L227.7,409.9L228.7,409.2L229.7,408.5L230.7,407.7L231.7,406.9L232.7,406.1L233.7,405.4L234.7,404.6L235.7,403.8L236.7,403.0L237.7,402.2L238.7,401.3L239.7,400.5L240.7,399.6L241.7,398.8L242.7,397.9L243.7,396.9L244.7,396.0L245.7,395.0L246.7,394.0L247.7,392.9L248.7,391.8L249.7,390.7L250.7,389.5L251.7,388.2L252.7,386.7L253.7,385.2L254.7,383.7L255.7,382.0L256.7,380.3L257.7,378.6L258.7,377.0L259.7,375.3L260.7,373.7L261.7,372.1L262.7,370.7L263.7,369.2L264.7,367.8L265.7,366.5L266.7,365.1L267.7,363.7L268.7,362.3L269.7,360.9L270.7,359.4L271.7,357.8L272.7,356.3L273.7,354.7L274.7,353.0L275.7,351.4L276.7,349.7L277.7,348.1L278.7,346.4L279.7,344.6L280.7,342.8L281.7,341.0L282.7,339.1L283.7,337.1L284.7,335.1L285.7,333.1L286.7,331.0L287.7,329.0L288.7,327.0L289.7,325.0L290.7,323.0L291.7,321.1L292.7,319.2L293.7,317.4L294.7,315.6L295.7,313.8L296.7,312.0L297.7,310.3L298.7,308.5L299.7,306.7L300.7,304.9L301.7,303.1L302.7,301.3L303.7,299.5L304.7,297.7L305.7,295.9L306.7,294.1L307.7,292.3L308.7,290.5L309.7,288.7L310.7,286.9L311.7,285.1L312.7,283.3L313.7,281.5L314.7,279.6L315.7,277.8L316.7,276.1L317.7,274.4L318.7,272.8L319.7,271.3L320.7,270.0L321.7,268.7L322.7,267.4L323.7,266.2L324.7,265.0L325.7,263.8L326.7,262.6L327.7,261.3L328.7,260.1L329.7,258.9L330.7,257.8L331.7,256.6L332.7,255.5L333.7,254.4L334.7,253.3L335.7,252.3L336.7,251.3L337.7,250.3L338.7,249.4L339.7,248.6L340.7,247.9L341.7,247.2L342.7,246.5L343.7,245.8L344.7,245.2L345.7,244.7L346.7,244.3L347.7,243.9L348.7,243.6L349.7,243.3L350.7,243.1L351.7,242.8L352.7,242.6L353.7,242.5L354.7,242.4L355.7,242.3L356.7,242.2L357.7,242.3L358.7,242.3L359.7,242.4L360.7,242.6L361.7,242.7L362.7,242.9L363.7,243.2L364.7,243.4L365.7,243.7L366.7,244.1L367.7,244.5L368.7,245.0L369.7,245.6L370.7,246.2L371.7,246.9L372.7,247.6L373.7,248.4L374.7,249.2L375.7,250.0L376.7,250.9L377.7,251.9L378.7,252.9L379.7,254.0L380.7,255.1L381.7,256.2L382.7,257.4L383.7,258.6L384.7,259.8L385.7,261.1L386.7,262.3L387.7,263.6L388.7,265.0L389.7,266.4L390.7,267.8L391.7,269.3L392.7,270.8L393.7,272.3L394.7,273.9L395.7,275.6L396.7,277.4L397.7,279.3L398.7,281.2L399.7,283.2L400.7,285.2L401.7,287.3L402.7,289.3L403.7,291.4L404.7,293.4L405.7,295.4L406.7,297.3L407.7,299.2L408.7,301.0L409.7,302.7L410.7,304.3L411.7,305.8L412.7,307.3L413.7,308.7L414.7,310.1L415.7,311.5L416.7,312.8L417.7,314.2L418.7,315.5L419.7,316.9L420.7,318.2L421.7,319.6L422.7,321.0L423.7,322.3L424.7,323.7L425.7,325.0L426.7,326.4L427.7,327.7L428.7,329.0L429.7,330.3L430.7,331.6L431.7,332.8L432.7,334.0L433.7,335.2L434.7,336.4L435.7,337.5L436.7,338.6L437.7,339.8L438.7,340.9L439.7,342.0L440.7,343.2L441.7,344.4L442.7,345.7L443.7,347.0L444.7,348.3L445.7,349.6L446.7,351.0L447.7,352.4L448.7,353.8L449.7,355.2L450.7,356.7L451.7,358.1L452.7,359.6L453.7,361.1L454.7,362.7L455.7,364.2L456.7,365.8L457.7,367.4L458.7,369.0L459.7,370.7L460.7,372.3L461.7,374.0L462.7,375.7L463.7,377.4L464.7,379.2L465.7,381.0L466.7,382.8L467.7,384.6L468.7,386.4L469.7,388.3L470.7,390.1L471.7,391.9L472.7,393.7L473.7,395.5L474.7,397.3L475.7,399.1L476.7,400.9L477.7,402.7L478.7,404.5L479.7,406.3L480.7,408.1L481.7,409.9L482.7,411.7L483.7,413.6L484.7,415.5L485.7,417.4L486.7,419.5L487.7,421.6L488.7,423.8L489.7,426.1L490.7,428.4L491.7,430.7L492.7,433.0L493.7,435.1L494.7,437.1L495.7,439.0L496.7,440.7L497.7,442.4L498.7,444.0L499.7,445.5L500.7,446.9L501.7,448.3L502.7,449.6L503.7,450.9L504.7,452.2L505.7,453.4L506.7,454.5L507.7,455.7L508.7,456.8L509.7,457.9L510.7,458.9L511.7,459.9L512.7,460.8L513.7,461.6L514.7,462.4L515.7,463.2L516.7,463.8L517.7,464.5L518.7,465.1L519.7,465.7L520.7,466.2L521.7,466.7L522.7,467.2L523.7,467.7L524.7,468.1L525.7,468.5L526.7,468.9L527.7,469.2L528.7,469.6L529.7,469.9L530.7,470.2L531.7,470.5L532.7,470.8L533.7,471.0L534.7,471.3L535.7,471.5L536.7,471.6L537.7,471.7L538.7,471.8L539.7,471.9L540.7,472.0L541.7,472.0L542.7,472.0L543.7,471.9L544.7,471.7L545.7,471.4L546.7,471.1L547.7,470.6L548.7,470.1L549.7,469.7L550.7,469.2L551.7,468.7L552.7,468.2L553.7,467.7L554.7,467.2L555.7,466.7L556.7,466.1L557.7,465.6L558.7,465.1L559.7,464.7L560.7,464.2L561.7,463.8L562.7,463.4L563.7,463.0L564.7,462.6L565.7,462.2L566.7,461.9L567.7,461.6L568.7,461.4L569.7,461.2L570.7,461.0L571.7,460.9L572.7,460.8L573.7,460.8L574.7,460.7L575.7,460.6L576.7,460.6L577.7,460.6L578.7,460.5L579.7,460.5L580.7,460.6L581.7,460.6L582.7,460.8L583.7,460.9L584.7,461.0L585.7,461.2L586.7,461.4L587.7,461.6L588.7,461.9L589.7,462.1L590.7,462.3L591.7,462.6L592.7,462.9L593.7,463.2L594.7,463.5L595.7,463.8L596.7,464.2L597.7,464.6L598.7,465.0L599.7,465.4L600.7,465.8L601.7,466.1L602.7,466.5L603.7,466.9L604.7,467.2L605.7,467.6L606.7,467.9L607.7,468.2L608.7,468.5L609.7,468.9L610.7,469.2L611.7,469.5L612.7,469.8L613.7,470.1L614.7,470.4L615.7,470.7L616.7,471.1L617.7,471.4L618.7,471.8L619.7,472.1L620.7,472.5L621.7,472.9L622.7,473.4L623.7,473.8L624.7,474.2L625.7,474.6L626.7,475.0L627.7,475.3L628.7,475.6L629.7,475.9L630.7,476.1L631.7,476.4L632.7,476.6L633.7,476.8L634.7,476.9L635.7,477.1L636.7,477.2L637.7,477.2L638.7,477.2L639.7,477.2L640.7,477.0L641.7,476.9L642.7,476.6L643.7,476.4L644.7,476.0L645.7,475.7L646.7,475.2L647.7,474.6L648.7,473.9L649.7,473.1L650.7,472.2L651.7,471.3L652.7,470.3L653.7,469.3L654.7,468.3L655.7,467.1L656.7,465.9L657.7,464.6L658.7,463.3L659.7,461.9L660.7,460.4L661.7,458.9L662.7,457.3L663.7,455.6L664.7,453.9L665.7,452.1L666.7,450.2L667.7,448.3L668.7,446.2L669.7,444.1L670.7,441.8L671.7,439.4L672.7,437.0L673.7,434.6L674.7,432.2L675.7,429.8L676.7,427.4L677.7,425.1L678.7,422.8L679.7,420.8L680.7,418.8L681.7,416.9L682.7,414.9L683.7,412.7L684.7,410.2L685.7,407.4L686.7,404.5L687.7,401.4L688.7,398.2L689.7,394.9L690.7,391.6L691.7,388.2L692.7,384.7L693.7,381.1L694.7,377.5L695.7,373.7L696.7,369.9L697.7,366.1L698.7,362.2L699.7,358.4L700.7,354.7L701.7,351.0L702.7,347.3L703.7,343.6L704.7,339.8L705.7,336.0L706.7,332.1L707.7,328.1L708.7,323.9L709.7,319.6L710.7,315.2L711.7,310.9L712.7,306.7L713.7,302.7L714.7,298.9L715.7,295.4L716.7,292.0L717.7,288.7L718.7,285.2L719.7,281.5L720.7,277.7L721.7,273.7L722.7,269.6L723.7,265.5L724.7,261.3L725.7,257.0L726.7,252.7L727.7,248.4L728.7,244.0L729.7,239.6L730.7,235.3L731.7,230.9L732.7,226.5L733.7,222.1L734.7,217.8L735.7,213.7L736.7,209.7L737.7,205.9L738.7,202.3L739.7,198.8L740.7,195.4L741.7,192.0L742.7,188.7L743.7,185.4L744.7,182.2L745.7,178.9L746.7,175.7L747.7,172.6L748.7,169.5L749.7,166.5L750.7,163.5L751.7,160.5L752.7,157.6L753.7,154.6L754.7,151.5L755.7,148.4L756.7,145.4L757.7,142.4L758.7,139.7L759.7,137.2L760.7,134.9L761.7,132.8L762.7,130.8L763.7,129.0L764.7,127.3L765.7,125.7L766.7,124.2L767.7,122.8L768.7,121.6L769.7,120.5L770.7,119.7L771.7,119.0L772.7,118.4L773.7,118.0L774.7,117.6L775.7,117.4L776.7,117.3L777.7,117.2L778.7,117.3L779.7,117.3L780.7,117.4L781.7,117.5L782.7,117.7L783.7,118.0L784.7,118.3L785.7,118.7L786.7,119.2L787.7,119.7L788.7,120.3L789.7,120.9L790.7,121.6L791.7,122.3L792.7,123.1L793.7,124.0L794.7,125.0L795.7,126.0L796.7,127.2L797.7,128.3L798.7,129.6L799.7,130.9L800.7,132.3L801.7,133.8L802.7,135.5L803.7,137.2L804.7,139.1L805.7,141.0L806.7,143.0L807.7,145.0L808.7,147.1L809.7,149.4L810.7,151.7L811.7,154.0L812.7,156.3L813.7,158.5L814.7,160.6L815.7,162.5L816.7,164.4L817.7,166.1L818.7,167.9L819.7,169.8L820.7,171.8L821.7,173.9L822.7,176.2L823.7,178.5L824.7,180.9L825.7,183.2L826.7,185.5L827.7,187.8L828.7,190.1L829.7,192.4L830.7,194.7L831.7,196.9L832.7,199.1L833.7,201.3L834.7,203.4L835.7,205.5L836.7,207.6L837.7,209.6L838.7,211.6L839.7,213.5L840.7,215.5L841.7,217.5L842.7,219.5L843.7,221.5L844.7,223.5L845.7,225.5L846.7,227.6L847.7,229.5L848.7,231.5L849.7,233.4L850.7,235.3L851.7,237.1L852.7,238.9L853.7,240.7L854.7,242.5L855.7,244.3L856.7,246.0L857.7,247.8L858.7,249.7L859.7,251.6L860.7,253.5L861.7,255.5L862.7,257.5L863.7,259.5L864.7,261.5L865.7,263.5L866.7,265.5L867.7,267.6L868.7,269.5L869.7,271.5L870.7,273.5L871.7,275.5L872.7,277.5L873.7,279.5L874.7,281.5L875.7,283.3L876.7,285.1L877.7,286.7L878.7,288.2L879.7,289.6L880.7,291.0L881.7,292.2L882.7,293.4L883.7,294.6L884.7,295.7L885.7,296.8L886.7,298.0L887.7,299.1L888.7,300.1L889.7,301.2L890.7,302.3L891.7,303.3L892.7,304.4L893.7,305.4L894.7,306.4L895.7,307.5L896.7,308.6L897.7,309.7L898.7,310.9L899.7,312.1L900.7,313.3L901.7,314.5L902.7,315.8L903.7,317.0L904.7,318.2L905.7,319.3L906.7,320.5L907.7,321.5L908.7,322.6L909.7,323.6L910.7,324.6L911.7,325.6L912.7,326.5L913.7,327.5L914.7,328.5L915.7,329.5L916.7,330.6L917.7,331.7L918.7,332.8L919.7,334.0L920.7,335.1L921.7,336.3L922.7,337.5L923.7,338.7L924.7,339.9L925.7,341.1L926.7,342.2L927.7,343.4L928.7,344.5L929.7,345.7L930.7,346.8L931.7,347.9L932.7,349.0L933.7,350.1L934.7,351.2L935.7,352.3L936.7,353.4L937.7,354.5L938.7,355.5L939.7,356.6L940.7,357.6L941.7,358.6L942.7,359.6L943.7,360.6L944.7,361.6L945.7,362.6L946.7,363.6L947.7,364.6L948.7,365.6L949.7,366.7L950.7,367.8L951.7,369.0L952.7,370.1L953.7,371.3L954.7,372.4L955.7,373.6L956.7,374.6L957.7,375.7L958.7,376.7L959.7,377.7L960.7,378.6L961.7,379.5L962.7,380.4L963.7,381.3L964.7,382.2L965.7,383.1L966.7,383.9L967.7,384.8L968.7,385.6L969.7,386.4L970.7,387.3L971.7,388.1L972.7,388.9L973.7,389.7L974.7,390.5L975.7,391.2L976.7,392.0L977.7,392.7L978.7,393.3L979.7,394.0L980.7,394.6L981.7,395.2L982.7,395.8L983.7,396.4L984.7,396.9L985.7,397.5L986.7,398.0L987.7,398.6L988.7,399.1L989.7,399.6L990.7,400.2L991.7,400.7L992.7,401.2L993.7,401.6L994.7,402.1L995.7,402.6L996.7,403.0L997.7,403.5L998.7,403.9L999.7,404.4L1000.7,404.8L1001.7,405.2L1002.7,405.7L1003.7,406.1L1004.7,406.5L1005.7,406.9L1006.7,407.3L1007.7,407.6L1008.7,408.0L1009.7,408.4L1010.7,408.7L1011.7,409.1L1012.7,409.4L1013.7,409.7L1014.7,410.1L1015.7,410.4L1016.7,410.7L1017.7,411.0L1018.7,411.3L1019.7,411.7L1020.7,412.0L1021.7,412.3L1022.7,412.6L1023.7,412.9L1024.7,413.2L1025.7,413.5L1026.7,413.8L1027.7,414.1L1028.7,414.4L1029.7,414.7L1030.7,415.0L1031.7,415.2L1032.7,415.5L1033.7,415.8L1034.7,416.0L1035.7,416.3L1036.7,416.5L1037.7,416.8L1038.7,417.0L1039.7,417.3L1040.7,417.5L1041.7,417.7L1042.7,418.0L1043.7,418.2L1044.7,418.5L1045.7,418.7L1046.7,418.9L1047.7,419.2L1048.7,419.4L1049.7,419.6L1050.7,419.9L1051.7,420.1L1052.7,420.3L1053.7,420.6L1054.7,420.8L1055.7,421.0L1056.7,421.2L1057.7,421.5L1058.7,421.7L1059.7,421.9L1060.7,422.1L1061.7,422.3L1062.7,422.6L1063.7,422.8L1064.7,423.0L1065.7,423.2L1066.7,423.4L1067.7,423.5L1068.7,423.7L1069.7,423.9L1070.7,424.1L1071.7,424.2L1072.7,424.4L1073.7,424.6L1074.7,424.7L1075.7,424.9L1076.7,425.0L1077.7,425.2L1078.7,425.3L1079.7,425.5L1080.7,425.6L1081.7,425.7L1082.7,425.9L1083.7,426.0L1084.7,426.1L1085.7,426.3L1086.7,426.4L1087.7,426.5L1088.7,426.6L1089.7,426.8L1090.7,426.9L1091.7,427.0L1092.7,427.1L1093.7,427.2L1094.7,427.3L1095.7,427.4L1096.7,427.5L1097.7,427.6L1098.7,427.7L1099.7,427.8L1100.7,427.9L1101.7,428.0L1102.7,428.0L1103.7,428.1L1104.7,428.2L1105.7,428.3L1106.7,428.3L1107.7,428.4L1108.7,428.5L1109.7,428.5L1110.7,428.6L1111.7,428.6L1112.7,428.7L1113.7,428.7L1114.7,428.8L1115.7,428.8L1116.7,428.8L1117.7,428.8L1118.7,428.9L1119.7,428.9L1120.7,428.9L1121.7,428.9L1122.7,428.9L1123.7,428.9L1124.7,428.9L1125.7,429.0L1126.7,429.0L1127.7,429.0L1128.7,429.0L1129.7,429.0L1130.7,429.0L1131.7,429.0L1132.7,429.0L1134.0,429.0L1134.0,429.0L1132.7,429.0L1131.7,429.0L1130.7,429.0L1129.7,429.0L1128.7,429.0L1127.7,429.1L1126.7,429.1L1125.7,429.1L1124.7,429.1L1123.7,429.1L1122.7,429.1L1121.7,429.1L1120.7,429.1L1119.7,429.1L1118.7,429.1L1117.7,429.1L1116.7,429.2L1115.7,429.2L1114.7,429.2L1113.7,429.2L1112.7,429.2L1111.7,429.2L1110.7,429.2L1109.7,429.2L1108.7,429.2L1107.7,429.2L1106.7,429.2L1105.7,429.3L1104.7,429.3L1103.7,429.3L1102.7,429.3L1101.7,429.3L1100.7,429.3L1099.7,429.3L1098.7,429.3L1097.7,429.3L1096.7,429.3L1095.7,429.4L1094.7,429.4L1093.7,429.4L1092.7,429.4L1091.7,429.4L1090.7,429.4L1089.7,429.5L1088.7,429.5L1087.7,429.5L1086.7,429.6L1085.7,429.6L1084.7,429.7L1083.7,429.7L1082.7,429.8L1081.7,429.8L1080.7,429.8L1079.7,429.9L1078.7,429.9L1077.7,430.0L1076.7,430.0L1075.7,430.0L1074.7,430.1L1073.7,430.1L1072.7,430.1L1071.7,430.2L1070.7,430.2L1069.7,430.2L1068.7,430.3L1067.7,430.3L1066.7,430.3L1065.7,430.4L1064.7,430.4L1063.7,430.4L1062.7,430.4L1061.7,430.4L1060.7,430.5L1059.7,430.5L1058.7,430.5L1057.7,430.5L1056.7,430.5L1055.7,430.5L1054.7,430.5L1053.7,430.5L1052.7,430.5L1051.7,430.5L1050.7,430.5L1049.7,430.4L1048.7,430.4L1047.7,430.3L1046.7,430.2L1045.7,430.2L1044.7,430.1L1043.7,430.0L1042.7,430.0L1041.7,429.9L1040.7,429.8L1039.7,429.7L1038.7,429.5L1037.7,429.4L1036.7,429.3L1035.7,429.1L1034.7,429.0L1033.7,428.8L1032.7,428.7L1031.7,428.5L1030.7,428.3L1029.7,428.2L1028.7,428.0L1027.7,427.9L1026.7,427.7L1025.7,427.6L1024.7,427.4L1023.7,427.2L1022.7,427.0L1021.7,426.9L1020.7,426.7L1019.7,426.5L1018.7,426.3L1017.7,426.1L1016.7,425.9L1015.7,425.8L1014.7,425.6L1013.7,425.4L1012.7,425.2L1011.7,425.0L1010.7,424.7L1009.7,424.5L1008.7,424.3L1007.7,424.1L1006.7,423.9L1005.7,423.6L1004.7,423.4L1003.7,423.2L1002.7,422.9L1001.7,422.7L1000.7,422.4L999.7,422.1L998.7,421.9L997.7,421.6L996.7,421.3L995.7,421.1L994.7,420.8L993.7,420.5L992.7,420.2L991.7,419.9L990.7,419.6L989.7,419.3L988.7,419.0L987.7,418.7L986.7,418.4L985.7,418.1L984.7,417.8L983.7,417.5L982.7,417.2L981.7,416.9L980.7,416.6L979.7,416.3L978.7,416.0L977.7,415.7L976.7,415.3L975.7,415.0L974.7,414.6L973.7,414.2L972.7,413.8L971.7,413.4L970.7,413.0L969.7,412.6L968.7,412.1L967.7,411.7L966.7,411.2L965.7,410.8L964.7,410.3L963.7,409.8L962.7,409.3L961.7,408.8L960.7,408.3L959.7,407.8L958.7,407.2L957.7,406.7L956.7,406.1L955.7,405.6L954.7,405.0L953.7,404.4L952.7,403.8L951.7,403.2L950.7,402.6L949.7,401.9L948.7,401.3L947.7,400.7L946.7,400.0L945.7,399.3L944.7,398.6L943.7,397.9L942.7,397.2L941.7,396.5L940.7,395.8L939.7,395.1L938.7,394.3L937.7,393.6L936.7,392.8L935.7,392.0L934.7,391.2L933.7,390.4L932.7,389.6L931.7,388.8L930.7,388.0L929.7,387.2L928.7,386.4L927.7,385.6L926.7,384.8L925.7,384.0L924.7,383.2L923.7,382.4L922.7,381.6L921.7,380.8L920.7,380.0L919.7,379.1L918.7,378.3L917.7,377.4L916.7,376.5L915.7,375.6L914.7,374.6L913.7,373.7L912.7,372.7L911.7,371.7L910.7,370.8L909.7,369.8L908.7,368.8L907.7,367.8L906.7,366.8L905.7,365.8L904.7,364.8L903.7,363.8L902.7,362.9L901.7,361.9L900.7,360.9L899.7,359.8L898.7,358.8L897.7,357.8L896.7,356.8L895.7,355.9L894.7,354.9L893.7,353.9L892.7,352.9L891.7,351.9L890.7,350.9L889.7,349.9L888.7,348.9L887.7,347.8L886.7,346.7L885.7,345.6L884.7,344.4L883.7,343.3L882.7,342.1L881.7,340.9L880.7,339.6L879.7,338.4L878.7,337.1L877.7,335.8L876.7,334.5L875.7,333.2L874.7,331.9L873.7,330.6L872.7,329.2L871.7,327.8L870.7,326.3L869.7,324.8L868.7,323.2L867.7,321.5L866.7,319.8L865.7,317.9L864.7,316.0L863.7,314.0L862.7,312.0L861.7,310.1L860.7,308.2L859.7,306.4L858.7,304.8L857.7,303.2L856.7,301.8L855.7,300.3L854.7,298.8L853.7,297.1L852.7,295.2L851.7,293.1L850.7,291.2L849.7,289.5L848.7,288.1L847.7,287.1L846.7,286.1L845.7,285.1L844.7,283.7L843.7,282.0L842.7,280.1L841.7,277.9L840.7,275.7L839.7,273.5L838.7,271.3L837.7,269.3L836.7,267.2L835.7,265.2L834.7,263.2L833.7,261.2L832.7,259.2L831.7,257.2L830.7,255.2L829.7,253.2L828.7,251.2L827.7,249.2L826.7,247.2L825.7,245.2L824.7,243.2L823.7,241.2L822.7,239.3L821.7,237.5L820.7,235.6L819.7,233.8L818.7,232.0L817.7,230.3L816.7,228.6L815.7,227.0L814.7,225.4L813.7,223.9L812.7,222.4L811.7,220.9L810.7,219.5L809.7,218.2L808.7,217.0L807.7,215.8L806.7,214.7L805.7,213.6L804.7,212.6L803.7,211.7L802.7,210.8L801.7,210.0L800.7,209.3L799.7,208.7L798.7,208.2L797.7,207.7L796.7,207.2L795.7,206.8L794.7,206.5L793.7,206.1L792.7,205.9L791.7,205.6L790.7,205.4L789.7,205.3L788.7,205.2L787.7,205.1L786.7,205.0L785.7,204.9L784.7,204.9L783.7,204.8L782.7,204.8L781.7,204.8L780.7,204.8L779.7,204.8L778.7,204.9L777.7,205.1L776.7,205.3L775.7,205.6L774.7,205.9L773.7,206.3L772.7,206.7L771.7,207.3L770.7,208.0L769.7,208.8L768.7,209.8L767.7,210.9L766.7,212.1L765.7,213.4L764.7,214.9L763.7,216.4L762.7,218.2L761.7,220.1L760.7,222.2L759.7,224.3L758.7,226.4L757.7,228.5L756.7,230.5L755.7,232.5L754.7,234.5L753.7,236.6L752.7,238.8L751.7,241.2L750.7,243.7L749.7,246.4L748.7,249.2L747.7,252.1L746.7,255.1L745.7,258.2L744.7,261.3L743.7,264.5L742.7,267.8L741.7,271.2L740.7,274.7L739.7,278.2L738.7,281.7L737.7,285.3L736.7,289.0L735.7,292.7L734.7,296.4L733.7,300.2L732.7,304.0L731.7,307.8L730.7,311.6L729.7,315.4L728.7,319.4L727.7,323.4L726.7,327.8L725.7,332.6L724.7,338.0L723.7,343.8L722.7,349.9L721.7,356.1L720.7,362.1L719.7,367.7L718.7,372.9L717.7,377.5L716.7,381.8L715.7,385.8L714.7,389.6L713.7,393.1L712.7,396.3L711.7,399.4L710.7,402.2L709.7,404.9L708.7,407.5L707.7,410.0L706.7,412.5L705.7,414.9L704.7,417.3L703.7,419.8L702.7,422.4L701.7,425.0L700.7,427.9L699.7,430.9L698.7,434.1L697.7,437.3L696.7,440.7L695.7,444.0L694.7,447.2L693.7,450.4L692.7,453.5L691.7,456.5L690.7,459.5L689.7,462.4L688.7,465.3L687.7,468.1L686.7,470.8L685.7,473.5L684.7,476.1L683.7,478.6L682.7,481.1L681.7,483.5L680.7,485.8L679.7,488.0L678.7,490.2L677.7,492.4L676.7,494.4L675.7,496.5L674.7,498.4L673.7,500.3L672.7,502.1L671.7,503.8L670.7,505.6L669.7,507.2L668.7,508.8L667.7,510.3L666.7,511.7L665.7,513.0L664.7,514.2L663.7,515.3L662.7,516.3L661.7,517.2L660.7,518.0L659.7,518.8L658.7,519.6L657.7,520.3L656.7,521.0L655.7,521.7L654.7,522.4L653.7,523.0L652.7,523.6L651.7,524.3L650.7,524.9L649.7,525.4L648.7,526.0L647.7,526.5L646.7,526.9L645.7,527.3L644.7,527.6L643.7,527.9L642.7,528.2L641.7,528.4L640.7,528.7L639.7,528.9L638.7,529.1L637.7,529.2L636.7,529.3L635.7,529.3L634.7,529.4L633.7,529.3L632.7,529.3L631.7,529.3L630.7,529.2L629.7,529.1L628.7,529.1L627.7,528.9L626.7,528.8L625.7,528.6L624.7,528.4L623.7,528.2L622.7,527.9L621.7,527.6L620.7,527.3L619.7,527.0L618.7,526.7L617.7,526.4L616.7,526.1L615.7,525.8L614.7,525.5L613.7,525.2L612.7,524.9L611.7,524.6L610.7,524.3L609.7,523.9L608.7,523.6L607.7,523.3L606.7,522.9L605.7,522.6L604.7,522.2L603.7,521.9L602.7,521.5L601.7,521.2L600.7,520.8L599.7,520.5L598.7,520.1L597.7,519.8L596.7,519.4L595.7,519.0L594.7,518.7L593.7,518.3L592.7,518.0L591.7,517.6L590.7,517.2L589.7,516.9L588.7,516.5L587.7,516.1L586.7,515.8L585.7,515.4L584.7,515.1L583.7,514.7L582.7,514.4L581.7,514.1L580.7,513.8L579.7,513.6L578.7,513.4L577.7,513.1L576.7,512.9L575.7,512.7L574.7,512.5L573.7,512.4L572.7,512.2L571.7,512.1L570.7,512.1L569.7,512.0L568.7,512.0L567.7,512.0L566.7,512.0L565.7,512.0L564.7,512.0L563.7,512.0L562.7,512.0L561.7,512.0L560.7,512.1L559.7,512.1L558.7,512.3L557.7,512.5L556.7,512.8L555.7,513.2L554.7,513.6L553.7,514.1L552.7,514.5L551.7,515.0L550.7,515.6L549.7,516.1L548.7,516.7L547.7,517.4L546.7,518.2L545.7,518.9L544.7,519.6L543.7,520.3L542.7,520.8L541.7,521.3L540.7,521.7L539.7,522.0L538.7,522.3L537.7,522.6L536.7,522.8L535.7,523.0L534.7,523.1L533.7,523.1L532.7,523.0L531.7,522.7L530.7,522.3L529.7,521.8L528.7,521.3L527.7,520.6L526.7,520.0L525.7,519.3L524.7,518.6L523.7,517.8L522.7,516.9L521.7,516.0L520.7,515.1L519.7,514.2L518.7,513.2L517.7,512.2L516.7,511.2L515.7,510.2L514.7,509.1L513.7,508.0L512.7,506.8L511.7,505.6L510.7,504.4L509.7,503.1L508.7,501.8L507.7,500.4L506.7,498.9L505.7,497.3L504.7,495.7L503.7,494.1L502.7,492.4L501.7,490.8L500.7,489.1L499.7,487.5L498.7,485.8L497.7,484.2L496.7,482.5L495.7,480.9L494.7,479.2L493.7,477.5L492.7,475.7L491.7,474.0L490.7,472.2L489.7,470.4L488.7,468.6L487.7,466.7L486.7,464.9L485.7,463.0L484.7,461.1L483.7,459.3L482.7,457.4L481.7,455.6L480.7,453.7L479.7,451.8L478.7,450.0L477.7,448.1L476.7,446.2L475.7,444.4L474.7,442.6L473.7,440.8L472.7,439.0L471.7,437.3L470.7,435.6L469.7,433.9L468.7,432.3L467.7,430.6L466.7,428.9L465.7,427.2L464.7,425.4L463.7,423.5L462.7,421.5L461.7,419.4L460.7,417.1L459.7,414.8L458.7,412.5L457.7,410.4L456.7,408.5L455.7,406.7L454.7,405.1L453.7,403.5L452.7,402.0L451.7,400.5L450.7,399.0L449.7,397.5L448.7,396.1L447.7,394.6L446.7,393.2L445.7,391.8L444.7,390.4L443.7,389.0L442.7,387.6L441.7,386.3L440.7,384.9L439.7,383.4L438.7,382.0L437.7,380.5L436.7,379.0L435.7,377.5L434.7,376.0L433.7,374.5L432.7,373.0L431.7,371.4L430.7,369.9L429.7,368.4L428.7,367.0L427.7,365.5L426.7,364.1L425.7,362.7L424.7,361.3L423.7,360.0L422.7,358.6L421.7,357.3L420.7,355.9L419.7,354.6L418.7,353.3L417.7,352.0L416.7,350.8L415.7,349.5L414.7,348.3L413.7,347.1L412.7,345.9L411.7,344.7L410.7,343.5L409.7,342.3L408.7,341.1L407.7,340.0L406.7,338.9L405.7,337.8L404.7,336.7L403.7,335.6L402.7,334.6L401.7,333.6L400.7,332.6L399.7,331.6L398.7,330.6L397.7,329.7L396.7,328.7L395.7,327.7L394.7,326.7L393.7,325.7L392.7,324.6L391.7,323.5L390.7,322.4L389.7,321.3L388.7,320.1L387.7,319.0L386.7,317.8L385.7,316.6L384.7,315.4L383.7,314.2L382.7,313.0L381.7,311.8L380.7,310.5L379.7,309.3L378.7,308.0L377.7,306.7L376.7,305.4L375.7,304.2L374.7,303.1L373.7,301.9L372.7,300.8L371.7,299.8L370.7,298.8L369.7,297.8L368.7,296.9L367.7,296.0L366.7,295.2L365.7,294.4L364.7,293.6L363.7,292.8L362.7,292.1L361.7,291.4L360.7,290.8L359.7,290.2L358.7,289.6L357.7,289.0L356.7,288.4L355.7,287.9L354.7,287.5L353.7,287.0L352.7,286.7L351.7,286.4L350.7,286.1L349.7,285.8L348.7,285.6L347.7,285.4L346.7,285.3L345.7,285.2L344.7,285.2L343.7,285.3L342.7,285.5L341.7,285.6L340.7,285.9L339.7,286.1L338.7,286.4L337.7,286.8L336.7,287.2L335.7,287.7L334.7,288.3L333.7,288.9L332.7,289.6L331.7,290.3L330.7,291.1L329.7,291.9L328.7,292.9L327.7,293.8L326.7,294.9L325.7,296.0L324.7,297.0L323.7,298.1L322.7,299.3L321.7,300.4L320.7,301.6L319.7,302.9L318.7,304.2L317.7,305.6L316.7,307.1L315.7,308.7L314.7,310.5L313.7,312.3L312.7,314.2L311.7,316.1L310.7,318.0L309.7,319.8L308.7,321.7L307.7,323.6L306.7,325.5L305.7,327.5L304.7,329.7L303.7,332.1L302.7,334.8L301.7,337.8L300.7,341.0L299.7,344.0L298.7,346.7L297.7,348.9L296.7,350.9L295.7,352.7L294.7,354.5L293.7,356.1L292.7,357.8L291.7,359.6L290.7,361.4L289.7,363.2L288.7,365.0L287.7,366.8L286.7,368.6L285.7,370.4L284.7,372.0L283.7,373.7L282.7,375.2L281.7,376.8L280.7,378.3L279.7,379.8L278.7,381.2L277.7,382.6L276.7,383.9L275.7,385.2L274.7,386.4L273.7,387.5L272.7,388.6L271.7,389.6L270.7,390.5L269.7,391.4L268.7,392.2L267.7,392.9L266.7,393.6L265.7,394.4L264.7,395.1L263.7,395.9L262.7,396.8L261.7,397.7L260.7,398.7L259.7,399.8L258.7,400.8L257.7,401.9L256.7,403.0L255.7,404.0L254.7,405.1L253.7,406.1L252.7,407.1L251.7,408.0L250.7,408.9L249.7,409.7L248.7,410.5L247.7,411.3L246.7,412.1L245.7,412.8L244.7,413.6L243.7,414.3L242.7,415.0L241.7,415.7L240.7,416.3L239.7,417.0L238.7,417.6L237.7,418.2L236.7,418.8L235.7,419.4L234.7,419.9L233.7,420.4L232.7,421.0L231.7,421.5L230.7,422.0L229.7,422.5L228.7,423.0L227.7,423.4L226.7,423.9L225.7,424.3L224.7,424.7L223.7,425.1L222.7,425.5L221.7,425.8L220.7,426.1L219.7,426.4L218.7,426.7L217.7,427.0L216.7,427.2L215.7,427.5L214.7,427.7L213.7,428.0L212.7,428.2L211.7,428.4L210.7,428.5L209.7,428.7L208.7,428.8L207.7,428.9L206.7,428.9L205.7,429.0L204.7,429.0L203.7,428.9L202.7,428.9L201.7,428.9L200.7,428.9L199.7,428.9L198.7,428.8L197.7,428.8L196.7,428.8L195.7,428.7L194.7,428.7L193.7,428.7L192.7,428.6L191.7,428.6L190.7,428.5L189.7,428.5L188.7,428.5L187.7,428.4L186.7,428.4L185.7,428.3L184.7,428.3L183.7,428.2L182.7,428.2L181.7,428.1L180.7,428.1L179.7,428.0L178.7,427.9L177.7,427.9L176.7,427.8L175.7,427.7L174.7,427.7L173.7,427.6L172.7,427.6L171.7,427.5L170.7,427.5L169.7,427.5L168.7,427.4L167.7,427.4L166.7,427.4L165.7,427.4L164.7,427.4L163.7,427.4L162.7,427.4L161.7,427.4L160.7,427.4L159.7,427.4L158.7,427.4L157.7,427.4L156.7,427.4L155.7,427.4L154.7,427.4L153.7,427.4L152.7,427.4L151.7,427.5L150.7,427.5L149.7,427.5L148.7,427.5L147.7,427.5L146.7,427.5L145.7,427.5L144.7,427.5L143.7,427.5L142.7,427.5L141.7,427.5L140.7,427.5L139.7,427.6L138.7,427.6L137.7,427.6L136.7,427.6L135.7,427.6L134.7,427.6L133.7,427.7L132.7,427.7L131.7,427.7L130.7,427.7L129.7,427.7L128.7,427.8L127.7,427.8L126.7,427.8L125.7,427.8L124.7,427.9L123.7,427.9L122.7,427.9L121.7,428.0L120.7,428.0L119.7,428.1L118.7,428.1L117.7,428.1L116.7,428.2L115.7,428.2L114.7,428.3L113.7,428.3L112.7,428.4L111.7,428.4L110.7,428.5L109.7,428.5L108.7,428.6L107.7,428.7L106.7,428.7L105.7,428.8L104.7,428.8L103.7,428.9L102.7,428.9Z" fill="#4c72b0" fill-opacity="0.15" stroke="#4c72b0" stroke-opacity="0.15" stroke-width="1.3"/>
<path d="M102.675,428.90H1133.985" stroke="#000" stroke-width="2.1"/>
<path d="M102.7,429.0L103.7,429.0L104.7,429.0L105.7,429.0L106.7,429.0L107.7,429.0L108.7,429.0L109.7,428.9L110.7,428.9L111.7,428.9L112.7,428.9L113.7,428.9L114.7,428.9L115.7,428.9L116.7,428.9L117.7,428.9L118.7,428.8L119.7,428.8L120.7,428.8L121.7,428.8L122.7,428.8L123.7,428.8L124.7,428.7L125.7,428.7L126.7,428.7L127.7,428.7L128.7,428.7L129.7,428.6L130.7,428.6L131.7,428.6L132.7,428.6L133.7,428.5L134.7,428.5L135.7,428.5L136.7,428.4L137.7,428.4L138.7,428.4L139.7,428.3L140.7,428.3L141.7,428.2L142.7,428.1L143.7,428.0L144.7,427.9L145.7,427.8L146.7,427.7L147.7,427.6L148.7,427.4L149.7,427.3L150.7,427.2L151.7,427.1L152.7,426.9L153.7,426.8L154.7,426.7L155.7,426.6L156.7,426.6L157.7,426.5L158.7,426.4L159.7,426.4L160.7,426.3L161.7,426.3L162.7,426.2L163.7,426.2L164.7,426.1L165.7,426.1L166.7,426.1L167.7,426.0L168.7,426.0L169.7,425.9L170.7,425.9L171.7,425.9L172.7,425.8L173.7,425.8L174.7,425.8L175.7,425.7L176.7,425.7L177.7,425.7L178.7,425.6L179.7,425.6L180.7,425.6L181.7,425.6L182.7,425.5L183.7,425.5L184.7,425.5L185.7,425.5L186.7,425.4L187.7,425.4L188.7,425.4L189.7,425.4L190.7,425.3L191.7,425.3L192.7,425.3L193.7,425.2L194.7,425.2L195.7,425.1L196.7,425.1L197.7,425.0L198.7,425.0L199.7,424.9L200.7,424.8L201.7,424.7L202.7,424.6L203.7,424.5L204.7,424.4L205.7,424.3L206.7,424.1L207.7,424.0L208.7,423.8L209.7,423.7L210.7,423.5L211.7,423.2L212.7,423.0L213.7,422.8L214.7,422.5L215.7,422.2L216.7,421.9L217.7,421.6L218.7,421.3L219.7,421.0L220.7,420.6L221.7,420.2L222.7,419.8L223.7,419.4L224.7,419.0L225.7,418.5L226.7,418.1L227.7,417.6L228.7,417.2L229.7,416.7L230.7,416.2L231.7,415.7L232.7,415.2L233.7,414.7L234.7,414.1L235.7,413.5L236.7,412.8L237.7,412.1L238.7,411.4L239.7,410.6L240.7,409.8L241.7,409.0L242.7,408.2L243.7,407.4L244.7,406.6L245.7,405.7L246.7,404.9L247.7,404.0L248.7,403.1L249.7,402.1L250.7,401.1L251.7,400.1L252.7,399.0L253.7,397.9L254.7,396.7L255.7,395.5L256.7,394.3L257.7,393.1L258.7,391.9L259.7,390.6L260.7,389.4L261.7,388.1L262.7,386.7L263.7,385.4L264.7,384.0L265.7,382.6L266.7,381.1L267.7,379.6L268.7,378.0L269.7,376.4L270.7,374.6L271.7,372.8L272.7,371.1L273.7,369.3L274.7,367.7L275.7,366.2L276.7,364.8L277.7,363.4L278.7,361.9L279.7,360.3L280.7,358.6L281.7,356.7L282.7,354.8L283.7,352.9L284.7,350.9L285.7,348.9L286.7,346.9L287.7,345.0L288.7,343.0L289.7,341.2L290.7,339.4L291.7,337.7L292.7,336.0L293.7,334.3L294.7,332.7L295.7,331.0L296.7,329.3L297.7,327.6L298.7,325.9L299.7,324.2L300.7,322.4L301.7,320.6L302.7,318.8L303.7,317.0L304.7,315.2L305.7,313.4L306.7,311.6L307.7,309.7L308.7,307.9L309.7,306.1L310.7,304.3L311.7,302.5L312.7,300.7L313.7,298.9L314.7,297.0L315.7,295.2L316.7,293.3L317.7,291.5L318.7,289.7L319.7,288.1L320.7,286.5L321.7,285.1L322.7,283.8L323.7,282.6L324.7,281.4L325.7,280.2L326.7,279.1L327.7,278.0L328.7,276.9L329.7,275.8L330.7,274.8L331.7,273.7L332.7,272.8L333.7,271.8L334.7,271.0L335.7,270.2L336.7,269.4L337.7,268.7L338.7,268.1L339.7,267.5L340.7,267.0L341.7,266.5L342.7,266.2L343.7,265.9L344.7,265.7L345.7,265.5L346.7,265.3L347.7,265.2L348.7,265.1L349.7,265.1L350.7,265.0L351.7,265.0L352.7,265.0L353.7,265.0L354.7,265.0L355.7,265.1L356.7,265.2L357.7,265.4L358.7,265.7L359.7,266.2L360.7,266.6L361.7,267.2L362.7,267.8L363.7,268.4L364.7,269.0L365.7,269.6L366.7,270.3L367.7,271.0L368.7,271.7L369.7,272.5L370.7,273.3L371.7,274.2L372.7,275.1L373.7,276.0L374.7,276.9L375.7,277.8L376.7,278.7L377.7,279.7L378.7,280.7L379.7,281.7L380.7,282.7L381.7,283.7L382.7,284.8L383.7,285.9L384.7,287.0L385.7,288.1L386.7,289.2L387.7,290.4L388.7,291.6L389.7,292.8L390.7,294.1L391.7,295.4L392.7,296.7L393.7,298.1L394.7,299.5L395.7,300.9L396.7,302.3L397.7,303.8L398.7,305.2L399.7,306.7L400.7,308.1L401.7,309.6L402.7,311.1L403.7,312.5L404.7,314.0L405.7,315.4L406.7,316.8L407.7,318.2L408.7,319.6L409.7,320.9L410.7,322.3L411.7,323.6L412.7,324.9L413.7,326.3L414.7,327.6L415.7,328.9L416.7,330.3L417.7,331.6L418.7,333.0L419.7,334.3L420.7,335.7L421.7,337.0L422.7,338.4L423.7,339.8L424.7,341.1L425.7,342.5L426.7,343.9L427.7,345.3L428.7,346.7L429.7,348.0L430.7,349.5L431.7,350.9L432.7,352.3L433.7,353.7L434.7,355.1L435.7,356.6L436.7,358.0L437.7,359.5L438.7,360.9L439.7,362.3L440.7,363.7L441.7,365.1L442.7,366.5L443.7,367.8L444.7,369.2L445.7,370.5L446.7,371.9L447.7,373.3L448.7,374.7L449.7,376.2L450.7,377.8L451.7,379.4L452.7,381.0L453.7,382.7L454.7,384.3L455.7,385.9L456.7,387.5L457.7,389.1L458.7,390.7L459.7,392.3L460.7,393.9L461.7,395.5L462.7,397.0L463.7,398.6L464.7,400.2L465.7,401.8L466.7,403.4L467.7,405.1L468.7,406.9L469.7,408.8L470.7,410.8L471.7,412.8L472.7,414.9L473.7,417.1L474.7,419.3L475.7,421.6L476.7,423.9L477.7,426.1L478.7,428.1L479.7,429.9L480.7,431.5L481.7,433.1L482.7,434.7L483.7,436.4L484.7,438.0L485.7,439.7L486.7,441.5L487.7,443.2L488.7,445.0L489.7,446.8L490.7,448.7L491.7,450.7L492.7,452.7L493.7,454.9L494.7,457.1L495.7,459.4L496.7,461.7L497.7,463.8L498.7,465.7L499.7,467.4L500.7,469.0L501.7,470.5L502.7,471.9L503.7,473.3L504.7,474.7L505.7,476.0L506.7,477.3L507.7,478.5L508.7,479.7L509.7,480.9L510.7,482.0L511.7,483.0L512.7,484.1L513.7,485.1L514.7,486.0L515.7,486.9L516.7,487.7L517.7,488.5L518.7,489.3L519.7,490.0L520.7,490.7L521.7,491.4L522.7,492.1L523.7,492.8L524.7,493.5L525.7,494.1L526.7,494.6L527.7,495.1L528.7,495.5L529.7,495.8L530.7,496.1L531.7,496.4L532.7,496.6L533.7,496.8L534.7,496.9L535.7,497.0L536.7,497.1L537.7,497.1L538.7,497.1L539.7,497.1L540.7,497.0L541.7,496.8L542.7,496.6L543.7,496.3L544.7,496.0L545.7,495.7L546.7,495.3L547.7,494.9L548.7,494.5L549.7,494.0L550.7,493.5L551.7,493.0L552.7,492.5L553.7,491.9L554.7,491.3L555.7,490.7L556.7,490.1L557.7,489.6L558.7,489.1L559.7,488.6L560.7,488.2L561.7,487.8L562.7,487.4L563.7,487.0L564.7,486.7L565.7,486.4L566.7,486.2L567.7,486.1L568.7,486.0L569.7,486.0L570.7,486.0L571.7,486.0L572.7,486.0L573.7,486.0L574.7,486.0L575.7,486.0L576.7,486.0L577.7,486.1L578.7,486.2L579.7,486.4L580.7,486.5L581.7,486.7L582.7,486.9L583.7,487.2L584.7,487.4L585.7,487.6L586.7,487.8L587.7,488.1L588.7,488.4L589.7,488.7L590.7,489.0L591.7,489.3L592.7,489.6L593.7,490.0L594.7,490.3L595.7,490.6L596.7,490.9L597.7,491.3L598.7,491.6L599.7,491.9L600.7,492.3L601.7,492.6L602.7,493.0L603.7,493.3L604.7,493.6L605.7,494.0L606.7,494.3L607.7,494.6L608.7,494.9L609.7,495.3L610.7,495.6L611.7,495.9L612.7,496.2L613.7,496.5L614.7,496.8L615.7,497.2L616.7,497.5L617.7,497.8L618.7,498.2L619.7,498.6L620.7,499.0L621.7,499.4L622.7,499.8L623.7,500.2L624.7,500.6L625.7,500.9L626.7,501.2L627.7,501.5L628.7,501.8L629.7,502.0L630.7,502.3L631.7,502.5L632.7,502.6L633.7,502.8L634.7,502.9L635.7,502.9L636.7,502.8L637.7,502.7L638.7,502.6L639.7,502.3L640.7,502.1L641.7,501.8L642.7,501.6L643.7,501.3L644.7,501.0L645.7,500.6L646.7,500.2L647.7,499.7L648.7,499.1L649.7,498.5L650.7,497.7L651.7,496.9L652.7,496.1L653.7,495.2L654.7,494.2L655.7,493.2L656.7,492.1L657.7,491.0L658.7,489.7L659.7,488.4L660.7,487.1L661.7,485.7L662.7,484.2L663.7,482.6L664.7,481.0L665.7,479.3L666.7,477.7L667.7,476.0L668.7,474.3L669.7,472.7L670.7,471.1L671.7,469.6L672.7,468.2L673.7,466.8L674.7,465.2L675.7,463.4L676.7,461.4L677.7,459.2L678.7,456.9L679.7,454.4L680.7,451.9L681.7,449.4L682.7,446.7L683.7,444.0L684.7,441.2L685.7,438.3L686.7,435.2L687.7,431.9L688.7,428.4L689.7,424.6L690.7,420.8L691.7,417.2L692.7,413.7L693.7,410.5L694.7,407.4L695.7,404.4L696.7,401.3L697.7,398.0L698.7,394.7L699.7,391.1L700.7,387.4L701.7,383.6L702.7,379.8L703.7,375.9L704.7,371.9L705.7,368.0L706.7,364.0L707.7,360.1L708.7,356.2L709.7,352.5L710.7,348.8L711.7,345.1L712.7,341.1L713.7,337.1L714.7,332.8L715.7,328.6L716.7,324.4L717.7,320.3L718.7,316.3L719.7,312.4L720.7,308.5L721.7,304.8L722.7,301.2L723.7,297.7L724.7,294.4L725.7,291.0L726.7,287.6L727.7,284.0L728.7,280.3L729.7,276.3L730.7,272.3L731.7,268.2L732.7,264.2L733.7,260.1L734.7,256.0L735.7,252.0L736.7,247.9L737.7,243.9L738.7,240.0L739.7,236.2L740.7,232.4L741.7,228.7L742.7,225.0L743.7,221.4L744.7,217.9L745.7,214.5L746.7,211.4L747.7,208.3L748.7,205.5L749.7,202.7L750.7,200.1L751.7,197.6L752.7,195.2L753.7,192.9L754.7,190.6L755.7,188.4L756.7,186.3L757.7,184.2L758.7,182.2L759.7,180.3L760.7,178.4L761.7,176.5L762.7,174.7L763.7,172.9L764.7,171.3L765.7,169.7L766.7,168.4L767.7,167.1L768.7,165.9L769.7,164.9L770.7,164.0L771.7,163.2L772.7,162.6L773.7,162.2L774.7,161.8L775.7,161.4L776.7,161.2L777.7,160.9L778.7,160.8L779.7,160.7L780.7,160.7L781.7,160.7L782.7,160.8L783.7,160.9L784.7,161.1L785.7,161.3L786.7,161.6L787.7,161.9L788.7,162.2L789.7,162.6L790.7,163.1L791.7,163.6L792.7,164.2L793.7,164.9L794.7,165.6L795.7,166.4L796.7,167.2L797.7,168.1L798.7,169.1L799.7,170.2L800.7,171.4L801.7,172.8L802.7,174.2L803.7,175.7L804.7,177.3L805.7,178.9L806.7,180.5L807.7,182.2L808.7,183.8L809.7,185.5L810.7,187.2L811.7,189.0L812.7,190.8L813.7,192.6L814.7,194.4L815.7,196.3L816.7,198.3L817.7,200.2L818.7,202.2L819.7,204.1L820.7,205.9L821.7,207.6L822.7,209.3L823.7,210.9L824.7,212.5L825.7,214.2L826.7,215.8L827.7,217.5L828.7,219.3L829.7,221.1L830.7,223.0L831.7,225.0L832.7,226.9L833.7,229.0L834.7,231.0L835.7,233.1L836.7,235.1L837.7,237.2L838.7,239.4L839.7,241.5L840.7,243.7L841.7,245.9L842.7,248.1L843.7,250.3L844.7,252.4L845.7,254.6L846.7,256.6L847.7,258.7L848.7,260.7L849.7,262.7L850.7,264.7L851.7,266.7L852.7,268.7L853.7,270.7L854.7,272.7L855.7,274.7L856.7,276.7L857.7,278.7L858.7,280.6L859.7,282.3L860.7,283.9L861.7,285.4L862.7,286.9L863.7,288.6L864.7,290.5L865.7,292.4L866.7,294.4L867.7,296.3L868.7,298.2L869.7,299.9L870.7,301.5L871.7,303.1L872.7,304.6L873.7,306.0L874.7,307.4L875.7,308.7L876.7,310.0L877.7,311.3L878.7,312.5L879.7,313.7L880.7,314.9L881.7,316.1L882.7,317.3L883.7,318.5L884.7,319.6L885.7,320.8L886.7,321.9L887.7,323.0L888.7,324.1L889.7,325.2L890.7,326.3L891.7,327.3L892.7,328.4L893.7,329.5L894.7,330.5L895.7,331.6L896.7,332.7L897.7,333.8L898.7,334.9L899.7,336.0L900.7,337.1L901.7,338.2L902.7,339.3L903.7,340.4L904.7,341.5L905.7,342.6L906.7,343.7L907.7,344.7L908.7,345.7L909.7,346.8L910.7,347.8L911.7,348.8L912.7,349.8L913.7,350.8L914.7,351.7L915.7,352.7L916.7,353.7L917.7,354.6L918.7,355.5L919.7,356.4L920.7,357.3L921.7,358.2L922.7,359.1L923.7,360.0L924.7,360.9L925.7,361.8L926.7,362.8L927.7,363.8L928.7,364.8L929.7,365.9L930.7,367.0L931.7,368.2L932.7,369.4L933.7,370.5L934.7,371.7L935.7,372.9L936.7,373.9L937.7,375.0L938.7,376.0L939.7,376.9L940.7,377.8L941.7,378.6L942.7,379.4L943.7,380.2L944.7,381.0L945.7,381.8L946.7,382.5L947.7,383.2L948.7,384.0L949.7,384.7L950.7,385.4L951.7,386.1L952.7,386.8L953.7,387.5L954.7,388.2L955.7,388.9L956.7,389.6L957.7,390.3L958.7,391.0L959.7,391.7L960.7,392.4L961.7,393.1L962.7,393.8L963.7,394.5L964.7,395.2L965.7,395.9L966.7,396.6L967.7,397.3L968.7,397.9L969.7,398.5L970.7,399.2L971.7,399.8L972.7,400.4L973.7,401.0L974.7,401.5L975.7,402.1L976.7,402.7L977.7,403.2L978.7,403.8L979.7,404.3L980.7,404.8L981.7,405.3L982.7,405.8L983.7,406.3L984.7,406.8L985.7,407.3L986.7,407.7L987.7,408.2L988.7,408.6L989.7,409.0L990.7,409.4L991.7,409.8L992.7,410.2L993.7,410.6L994.7,411.0L995.7,411.3L996.7,411.7L997.7,412.0L998.7,412.3L999.7,412.7L1000.7,413.0L1001.7,413.2L1002.7,413.5L1003.7,413.8L1004.7,414.1L1005.7,414.4L1006.7,414.7L1007.7,415.0L1008.7,415.3L1009.7,415.6L1010.7,415.9L1011.7,416.2L1012.7,416.5L1013.7,416.8L1014.7,417.1L1015.7,417.4L1016.7,417.7L1017.7,417.9L1018.7,418.2L1019.7,418.4L1020.7,418.7L1021.7,418.9L1022.7,419.1L1023.7,419.4L1024.7,419.6L1025.7,419.8L1026.7,420.0L1027.7,420.2L1028.7,420.4L1029.7,420.6L1030.7,420.8L1031.7,421.0L1032.7,421.2L1033.7,421.4L1034.7,421.6L1035.7,421.8L1036.7,421.9L1037.7,422.1L1038.7,422.3L1039.7,422.4L1040.7,422.6L1041.7,422.8L1042.7,422.9L1043.7,423.1L1044.7,423.2L1045.7,423.4L1046.7,423.5L1047.7,423.7L1048.7,423.8L1049.7,423.9L1050.7,424.1L1051.7,424.2L1052.7,424.3L1053.7,424.5L1054.7,424.6L1055.7,424.7L1056.7,424.9L1057.7,425.0L1058.7,425.1L1059.7,425.2L1060.7,425.3L1061.7,425.5L1062.7,425.6L1063.7,425.7L1064.7,425.8L1065.7,425.9L1066.7,426.0L1067.7,426.1L1068.7,426.2L1069.7,426.3L1070.7,426.4L1071.7,426.5L1072.7,426.6L1073.7,426.7L1074.7,426.8L1075.7,426.9L1076.7,427.0L1077.7,427.1L1078.7,427.1L1079.7,427.2L1080.7,427.3L1081.7,427.4L1082.7,427.5L1083.7,427.5L1084.7,427.6L1085.7,427.7L1086.7,427.7L1087.7,427.8L1088.7,427.8L1089.7,427.9L1090.7,428.0L1091.7,428.0L1092.7,428.0L1093.7,428.1L1094.7,428.1L1095.7,428.2L1096.7,428.2L1097.7,428.3L1098.7,428.3L1099.7,428.4L1100.7,428.4L1101.7,428.5L1102.7,428.5L1103.7,428.5L1104.7,428.6L1105.7,428.6L1106.7,428.7L1107.7,428.7L1108.7,428.7L1109.7,428.8L1110.7,428.8L1111.7,428.8L1112.7,428.8L1113.7,428.8L1114.7,428.8L1115.7,428.9L1116.7,428.9L1117.7,428.9L1118.7,428.9L1119.7,428.9L1120.7,428.9L1121.7,428.9L1122.7,428.9L1123.7,429.0L1124.7,429.0L1125.7,429.0L1126.7,429.0L1127.7,429.0L1128.7,429.0L1129.7,429.0L1130.7,429.0L1131.7,429.0L1132.7,429.0L1134.0,429.0" fill="none" stroke="#4c72b0" stroke-width="2.1" stroke-dasharray="7.8,3.4" stroke-linejoin="round"/>
<path d="M102.7,429.0L108.4,429.0L114.1,429.0L119.9,429.0L125.6,429.0L131.3,429.0L137.1,429.0L142.8,428.8L148.5,428.4L154.2,427.7L160.0,426.5L165.7,425.9L171.4,426.3L177.2,427.0L182.9,428.0L188.6,429.2L194.3,430.3L200.1,431.0L205.8,431.3L211.5,430.9L217.3,429.5L223.0,426.4L228.7,423.0L234.5,419.6L240.2,415.5L245.9,410.7L251.6,405.1L257.4,398.9L263.1,391.2L268.8,381.1L274.6,368.7L280.3,356.0L286.0,342.7L291.7,331.5L297.5,321.7L303.2,311.0L308.9,297.1L314.7,282.5L320.4,272.4L326.1,266.4L331.9,262.5L337.6,260.6L343.3,260.3L349.0,261.8L354.8,263.8L360.5,265.7L366.2,267.9L372.0,271.4L377.7,275.9L383.4,282.0L389.1,288.3L394.9,293.1L400.6,297.4L406.3,304.0L412.1,312.1L417.8,319.1L423.5,325.2L429.3,334.9L435.0,343.5L440.7,351.4L446.4,358.7L452.2,366.5L457.9,375.9L463.6,390.1L469.4,405.6L475.1,421.1L480.8,434.9L486.6,447.4L492.3,459.2L498.0,470.2L503.7,480.0L509.5,487.8L515.2,496.0L520.9,503.1L526.7,508.6L532.4,511.8L538.1,512.2L543.8,512.1L549.6,511.7L555.3,510.1L561.0,508.3L566.8,506.2L572.5,503.8L578.2,502.0L584.0,502.0L589.7,499.9L595.4,496.0L601.1,491.8L606.9,488.6L612.6,486.6L618.3,485.6L624.1,486.9L629.8,489.8L635.5,492.0L641.2,492.3L647.0,491.8L652.7,488.5L658.4,483.0L664.2,476.4L669.9,466.8L675.6,455.9L681.4,444.2L687.1,431.6L692.8,419.1L698.5,403.3L704.3,389.1L710.0,373.9L715.7,361.0L721.5,348.3L727.2,338.4L732.9,331.7L738.6,324.3L744.4,312.3L750.1,299.7L755.8,286.8L761.6,273.9L767.3,260.9L773.0,248.3L778.8,238.0L784.5,229.6L790.2,222.8L795.9,218.0L801.7,213.9L807.4,209.5L813.1,202.8L818.9,198.0L824.6,203.6L830.3,217.0L836.1,226.8L841.8,231.4L847.5,235.6L853.2,241.0L859.0,247.9L864.7,259.1L870.4,271.9L876.2,285.7L881.9,299.3L887.6,316.1L893.3,328.5L899.1,338.8L904.8,347.4L910.5,352.4L916.3,355.0L922.0,355.1L927.7,354.3L933.5,353.8L939.2,353.9L944.9,354.9L950.6,356.9L956.4,360.1L962.1,364.8L967.8,370.5L973.6,376.2L979.3,381.1L985.0,386.7L990.7,392.2L996.5,397.2L1002.2,402.1L1007.9,407.7L1013.7,413.1L1019.4,417.3L1025.1,420.3L1030.9,422.7L1036.6,424.7L1042.3,426.4L1048.0,427.1L1053.8,427.6L1059.5,428.0L1065.2,428.4L1071.0,428.7L1076.7,428.9L1082.4,429.0L1088.1,429.0L1093.9,429.0L1099.6,429.0L1105.3,429.0L1111.1,429.0L1116.8,429.0L1122.5,429.0L1128.3,429.0L1134.0,429.0" fill="none" stroke="#c44e52" stroke-width="2.1" stroke-linejoin="round"/>
</g>
<rect x="924.7" y="50.7" width="200.9" height="81.8" rx="3" ry="3" fill="#eaeaf2" fill-opacity="0.8" stroke="#cccccc" stroke-width="1.2"/>
<path d="M931,62.9H964.5" stroke="#4c72b0" stroke-width="2.1" stroke-dasharray="7.8,3.4"/>
<path d="M979.2,90.6H991.8M985.5,84.3V96.9M993.6,99L1001.6,82.3" stroke="#262626" stroke-width="1.05" fill="none"/>
<path d="M1003.7,91.4H1007.3" stroke="#262626" stroke-width="1.3" fill="none"/>
<rect x="931" y="83.4" width="34" height="12.4" fill="#4c72b0" fill-opacity="0.15" stroke="#4c72b0" stroke-opacity="0.15" stroke-width="1.3"/>
<path d="M930.5,114.8H965" stroke="#c44e52" stroke-width="2.1"/>
</svg>
<div class="t tw" style="left:367.4px;letter-spacing:1.22px;">Earth</div>
<div class="t tw" style="left:426.5px;letter-spacing:0.01px;">Relative</div>
<div class="t tw" style="left:504.5px;letter-spacing:-0.60px;">AAM</div>
<div class="t tw" style="left:558.4px;letter-spacing:0.40px;">by</div>
<div class="t tw" style="left:587.0px;letter-spacing:0.67px;">Latitude</div>
<div class="t tw" style="left:668.8px;letter-spacing:0.30px;">for</div>
<div class="t tw" style="left:701.1px;letter-spacing:-0.05px;">Feb</div>
<div class="t tw" style="left:740.8px;letter-spacing:1.00px;">19</div>
<div class="t tw" style="left:769.8px;letter-spacing:1.90px;">0000</div>
<div class="t tw" style="left:825.1px;letter-spacing:1.10px;">UTC</div>
<div class="t" id="exp" style="left:103.7px;top:24.1px;font-size:15.4px;letter-spacing:0.35px;">1e24</div>
<div class="t yt" style="left:18.5px;top:33.60px;">3.0</div>
<div class="t yt" style="left:18.5px;top:98.18px;">2.5</div>
<div class="t yt" style="left:18.5px;top:162.76px;">2.0</div>
<div class="t yt" style="left:18.5px;top:227.34px;">1.5</div>
<div class="t yt" style="left:18.5px;top:291.92px;">1.0</div>
<div class="t yt" style="left:18.5px;top:356.50px;">0.5</div>
<div class="t yt" style="left:18.5px;top:421.08px;">0.0</div>
<div class="t yt" style="left:18.5px;top:485.66px;"><span class="m"></span>0.5</div>
<div class="t yt" style="left:18.5px;top:550.24px;"><span class="m"></span>1.0</div>
<div class="t yt" style="left:18.5px;top:614.82px;"><span class="m"></span>1.5</div>
<div class="t xt" style="left:67.5px;top:633.95px;"><span class="m"></span>90</div>
<div class="t xt" style="left:124.8px;top:633.95px;"><span class="m"></span>80</div>
<div class="t xt" style="left:182.1px;top:633.95px;"><span class="m"></span>70</div>
<div class="t xt" style="left:239.4px;top:633.95px;"><span class="m"></span>60</div>
<div class="t xt" style="left:296.7px;top:633.95px;"><span class="m"></span>50</div>
<div class="t xt" style="left:353.9px;top:633.95px;"><span class="m"></span>40</div>
<div class="t xt" style="left:411.2px;top:633.95px;"><span class="m"></span>30</div>
<div class="t xt" style="left:468.5px;top:633.95px;"><span class="m"></span>20</div>
<div class="t xt" style="left:525.8px;top:633.95px;"><span class="m"></span>10</div>
<div class="t xt" style="left:583.1px;top:633.95px;">0</div>
<div class="t xt" style="left:640.4px;top:633.95px;">10</div>
<div class="t xt" style="left:697.7px;top:633.95px;">20</div>
<div class="t xt" style="left:755.0px;top:633.95px;">30</div>
<div class="t xt" style="left:812.3px;top:633.95px;">40</div>
<div class="t xt" style="left:869.6px;top:633.95px;">50</div>
<div class="t xt" style="left:926.9px;top:633.95px;">60</div>
<div class="t xt" style="left:984.2px;top:633.95px;">70</div>
<div class="t xt" style="left:1041.5px;top:633.95px;">80</div>
<div class="t xt" style="left:1098.8px;top:633.95px;">90</div>
<div class="t" id="xlabel" style="left:588px;width:60px;text-align:center;top:657px;font-size:21px;font-family:'Liberation Sans',sans-serif;font-style:italic;">&#981;</div>
<div class="t" id="ylabel" style="left:-71.5px;top:322.5px;width:200px;text-align:center;font-size:20.5px;letter-spacing:0.45px;font-family:'Liberation Sans',sans-serif;font-style:italic;transform:rotate(-90deg);transform-origin:50% 50%;">M<sub style="font-size:14.5px;line-height:0;vertical-align:-3.5px;">R</sub><span style="display:inline-block;width:7.6px"></span>(kg&#8201;&middot;&#8201;m<sup style="font-size:14.5px;line-height:0;vertical-align:7.5px;">2</sup>&#8201;&middot;&#8201;s<sup style="font-size:14.5px;line-height:0;vertical-align:7.5px;"><span style="display:inline-block;width:9.5px;border-top:1.3px solid #262626;vertical-align:4.2px;margin:0 1.5px 0 1px;transform:skewX(-12deg);"></span>1</sup>)</div>
<div class="t" id="lg1" style="left:978px;top:54.7px;font-size:17.5px;letter-spacing:0.4px;">1970-2010 Mean</div>
<div class="t" id="lg2a" style="left:1011.2px;top:81.3px;font-size:17.5px;">1</div>
<div class="t" id="lg2b" style="left:1026.3px;top:81.8px;font-size:16.5px;font-family:'Liberation Sans',sans-serif;font-style:italic;">&sigma;</div>
<div class="t" id="lg2c" style="left:1041.5px;top:81.3px;font-size:17.5px;letter-spacing:0px;">and</div>
<div class="t" id="lg2d" style="left:1073px;top:81.3px;font-size:17.5px;letter-spacing:0px;">Range</div>
<div class="t" id="lg3" style="left:978.7px;top:107.5px;font-size:17.5px;letter-spacing:0px;">Today</div>
<div class="t" style="left:1054px;top:662.7px;width:167px;height:24.2px;background:#1a1a1a;border-radius:4px;"></div>
<div class="t" id="badge" style="left:1054px;top:666.8px;width:167px;text-align:center;font-size:14px;color:#f0f0f0;letter-spacing:0.3px;">atlas.niu.edu&nbsp; @gensiniwx</div>
</body></html>
